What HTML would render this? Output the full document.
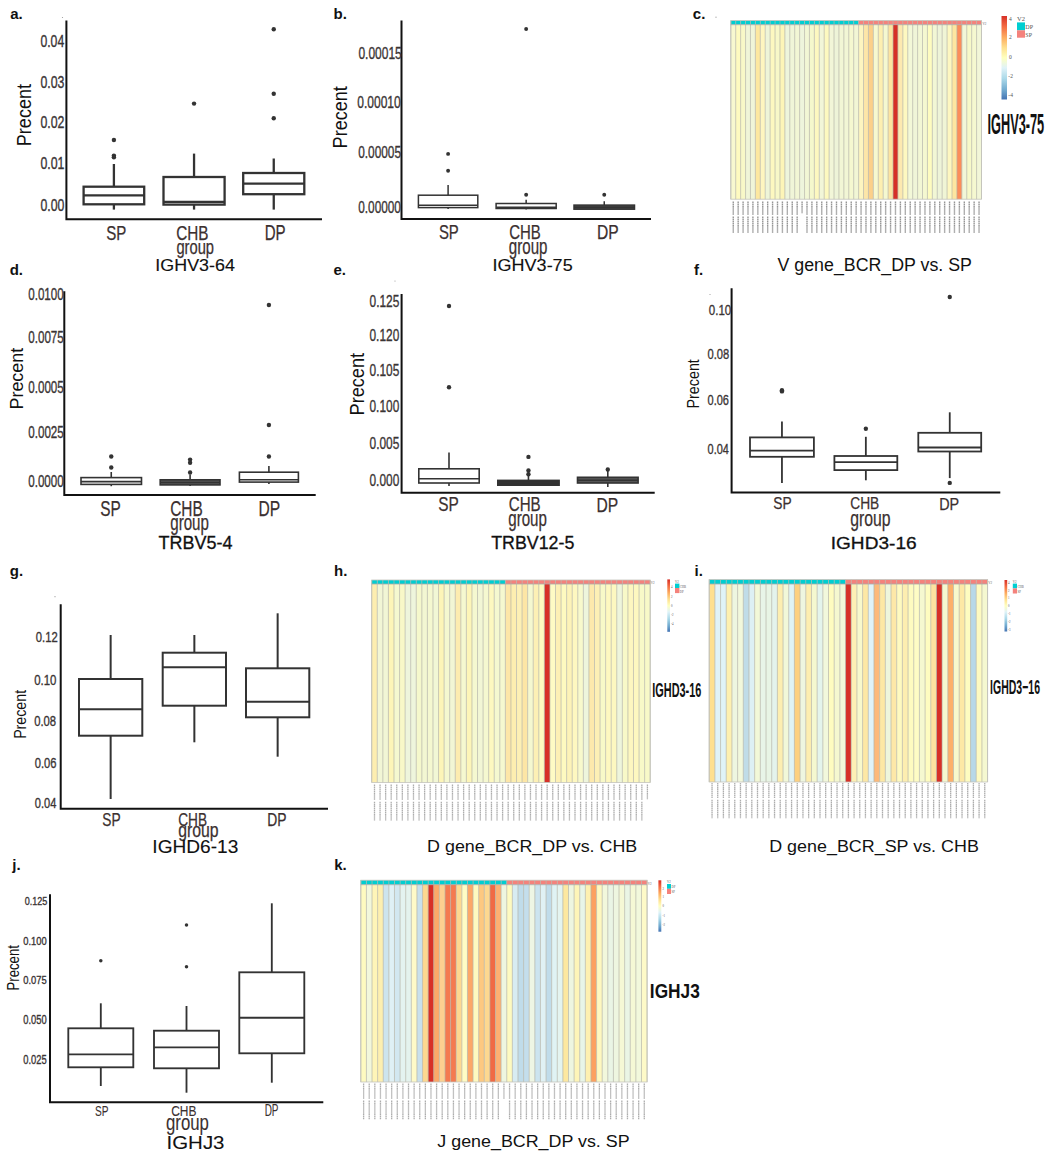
<!DOCTYPE html><html><head><meta charset="utf-8"><style>html,body{margin:0;padding:0;background:#fff;overflow:hidden;}svg{display:block;}</style></head><body>
<svg width="1051" height="1164" viewBox="0 0 1051 1164">
<rect width="1051" height="1164" fill="#fff"/>
<text x="10.2" y="19.1" font-size="15" font-family="Liberation Sans" font-weight="bold" fill="#111">a.</text>
<text x="333.6" y="19.1" font-size="15" font-family="Liberation Sans" font-weight="bold" fill="#111">b.</text>
<text x="692.8" y="19.1" font-size="15" font-family="Liberation Sans" font-weight="bold" fill="#111">c.</text>
<text x="9.7" y="275" font-size="15" font-family="Liberation Sans" font-weight="bold" fill="#111">d.</text>
<text x="333.5" y="275" font-size="15" font-family="Liberation Sans" font-weight="bold" fill="#111">e.</text>
<text x="694.1" y="275" font-size="15" font-family="Liberation Sans" font-weight="bold" fill="#111">f.</text>
<text x="9.8" y="576" font-size="15" font-family="Liberation Sans" font-weight="bold" fill="#111">g.</text>
<text x="334.0" y="576" font-size="15" font-family="Liberation Sans" font-weight="bold" fill="#111">h.</text>
<text x="694.6" y="576" font-size="15" font-family="Liberation Sans" font-weight="bold" fill="#111">i.</text>
<text x="12.3" y="870" font-size="15" font-family="Liberation Sans" font-weight="bold" fill="#111">j.</text>
<text x="334.2" y="870" font-size="15" font-family="Liberation Sans" font-weight="bold" fill="#111">k.</text>
<path d="M66.4 20.5 V219.3 H322" fill="none" stroke="#111" stroke-width="2.0"/>
<text x="40.41" y="47.43" font-size="16.95" font-family="Liberation Sans" font-weight="normal" fill="#3a3434" textLength="23.76" lengthAdjust="spacingAndGlyphs" stroke="#3a3434" stroke-width="0.35">0.04</text>
<text x="40.41" y="87.73" font-size="16.95" font-family="Liberation Sans" font-weight="normal" fill="#3a3434" textLength="23.94" lengthAdjust="spacingAndGlyphs" stroke="#3a3434" stroke-width="0.35">0.03</text>
<text x="40.41" y="128.13" font-size="16.95" font-family="Liberation Sans" font-weight="normal" fill="#3a3434" textLength="24.01" lengthAdjust="spacingAndGlyphs" stroke="#3a3434" stroke-width="0.35">0.02</text>
<text x="40.41" y="168.53" font-size="16.95" font-family="Liberation Sans" font-weight="normal" fill="#3a3434" textLength="23.99" lengthAdjust="spacingAndGlyphs" stroke="#3a3434" stroke-width="0.35">0.01</text>
<text x="40.41" y="210.83" font-size="16.95" font-family="Liberation Sans" font-weight="normal" fill="#3a3434" textLength="23.86" lengthAdjust="spacingAndGlyphs" stroke="#3a3434" stroke-width="0.35">0.00</text>
<line x1="113.90" y1="164" x2="113.90" y2="186.7" stroke="#333333" stroke-width="2.3"/>
<line x1="113.90" y1="204.3" x2="113.90" y2="209.6" stroke="#333333" stroke-width="2.3"/>
<rect x="83.6" y="186.7" width="60.60" height="17.60" fill="none" stroke="#333333" stroke-width="2.3"/>
<line x1="83.6" y1="195.3" x2="144.2" y2="195.3" stroke="#333333" stroke-width="2.3"/>
<circle cx="113.90" cy="140" r="2.2" fill="#333333"/>
<circle cx="113.90" cy="155.6" r="2.2" fill="#333333"/>
<circle cx="113.90" cy="157.3" r="2.2" fill="#333333"/>
<line x1="194.05" y1="153.6" x2="194.05" y2="177" stroke="#333333" stroke-width="2.3"/>
<line x1="194.05" y1="204.6" x2="194.05" y2="209.6" stroke="#333333" stroke-width="2.3"/>
<rect x="163.5" y="177" width="61.10" height="27.60" fill="none" stroke="#333333" stroke-width="2.3"/>
<line x1="163.5" y1="201.8" x2="224.6" y2="201.8" stroke="#333333" stroke-width="2.3"/>
<circle cx="194.05" cy="103.6" r="2.2" fill="#333333"/>
<line x1="273.75" y1="158.5" x2="273.75" y2="173" stroke="#333333" stroke-width="2.3"/>
<line x1="273.75" y1="194.2" x2="273.75" y2="209.6" stroke="#333333" stroke-width="2.3"/>
<rect x="243.2" y="173" width="61.10" height="21.20" fill="none" stroke="#333333" stroke-width="2.3"/>
<line x1="243.2" y1="183.6" x2="304.3" y2="183.6" stroke="#333333" stroke-width="2.3"/>
<circle cx="273.75" cy="29.2" r="2.2" fill="#333333"/>
<circle cx="273.75" cy="93.7" r="2.2" fill="#333333"/>
<circle cx="273.75" cy="118.2" r="2.2" fill="#333333"/>
<text x="106.21" y="239.79" font-size="20.76" font-family="Liberation Sans" font-weight="normal" fill="#3b3030" textLength="20.07" lengthAdjust="spacingAndGlyphs" stroke="#3b3030" stroke-width="0.25">SP</text>
<text x="176.19" y="239.79" font-size="20.76" font-family="Liberation Sans" font-weight="normal" fill="#3b3030" textLength="32.28" lengthAdjust="spacingAndGlyphs" stroke="#3b3030" stroke-width="0.25">CHB</text>
<text x="264.71" y="240.00" font-size="21.37" font-family="Liberation Sans" font-weight="normal" fill="#3b3030" textLength="20.94" lengthAdjust="spacingAndGlyphs" stroke="#3b3030" stroke-width="0.25">DP</text>
<text x="176.38" y="253.53" font-size="19.57" font-family="Liberation Sans" font-weight="normal" fill="#3b3030" textLength="37.63" lengthAdjust="spacingAndGlyphs" stroke="#3b3030" stroke-width="0.25">group</text>
<text x="155.36" y="271.23" font-size="17.23" font-family="Liberation Sans" font-weight="normal" fill="#111" textLength="79.49" lengthAdjust="spacingAndGlyphs" stroke="#111" stroke-width="0.15">IGHV3-64</text>
<text transform="translate(30.70,146.18) rotate(-90)" x="0" y="0" font-size="19.63" font-family="Liberation Sans" font-weight="normal" fill="#111" textLength="62.23" lengthAdjust="spacingAndGlyphs">Precent</text>
<path d="M401.5 20.4 V219 H651" fill="none" stroke="#111" stroke-width="2.0"/>
<text x="358.42" y="58.83" font-size="16.53" font-family="Liberation Sans" font-weight="normal" fill="#3a3434" textLength="43.39" lengthAdjust="spacingAndGlyphs" stroke="#3a3434" stroke-width="0.35">0.00015</text>
<text x="357.22" y="108.03" font-size="17.23" font-family="Liberation Sans" font-weight="normal" fill="#3a3434" textLength="43.55" lengthAdjust="spacingAndGlyphs" stroke="#3a3434" stroke-width="0.35">0.00010</text>
<text x="358.23" y="157.63" font-size="16.53" font-family="Liberation Sans" font-weight="normal" fill="#3a3434" textLength="42.78" lengthAdjust="spacingAndGlyphs" stroke="#3a3434" stroke-width="0.35">0.00005</text>
<text x="358.23" y="213.03" font-size="17.23" font-family="Liberation Sans" font-weight="normal" fill="#3a3434" textLength="42.73" lengthAdjust="spacingAndGlyphs" stroke="#3a3434" stroke-width="0.35">0.00000</text>
<line x1="448.10" y1="185" x2="448.10" y2="195.2" stroke="#333333" stroke-width="1.5"/>
<line x1="448.10" y1="207.6" x2="448.10" y2="209" stroke="#333333" stroke-width="1.5"/>
<rect x="418.4" y="195.2" width="59.40" height="12.40" fill="none" stroke="#333333" stroke-width="1.5"/>
<line x1="418.4" y1="205.3" x2="477.8" y2="205.3" stroke="#333333" stroke-width="1.5"/>
<circle cx="448.10" cy="153.9" r="1.95" fill="#333333"/>
<circle cx="448.10" cy="170.8" r="1.95" fill="#333333"/>
<line x1="526.15" y1="199.8" x2="526.15" y2="203.5" stroke="#333333" stroke-width="1.5"/>
<line x1="526.15" y1="208.5" x2="526.15" y2="209.5" stroke="#333333" stroke-width="1.5"/>
<rect x="496.1" y="203.5" width="60.10" height="5.00" fill="none" stroke="#333333" stroke-width="1.5"/>
<line x1="496.1" y1="207.2" x2="556.2" y2="207.2" stroke="#333333" stroke-width="1.5"/>
<circle cx="526.15" cy="194.8" r="1.95" fill="#333333"/>
<circle cx="526.15" cy="29" r="1.95" fill="#333333"/>
<line x1="604.25" y1="201.2" x2="604.25" y2="205.1" stroke="#333333" stroke-width="1.5"/>
<line x1="604.25" y1="209.2" x2="604.25" y2="209.8" stroke="#333333" stroke-width="1.5"/>
<rect x="574" y="205.1" width="60.50" height="4.10" fill="#444" stroke="#333333" stroke-width="1.5"/>
<line x1="574" y1="207.2" x2="634.5" y2="207.2" stroke="#333333" stroke-width="1.5"/>
<circle cx="604.25" cy="194.8" r="1.95" fill="#333333"/>
<text x="438.92" y="239.10" font-size="20.20" font-family="Liberation Sans" font-weight="normal" fill="#3b3030" textLength="19.86" lengthAdjust="spacingAndGlyphs" stroke="#3b3030" stroke-width="0.25">SP</text>
<text x="509.15" y="239.10" font-size="20.20" font-family="Liberation Sans" font-weight="normal" fill="#3b3030" textLength="31.54" lengthAdjust="spacingAndGlyphs" stroke="#3b3030" stroke-width="0.25">CHB</text>
<text x="596.92" y="239.30" font-size="20.78" font-family="Liberation Sans" font-weight="normal" fill="#3b3030" textLength="21.71" lengthAdjust="spacingAndGlyphs" stroke="#3b3030" stroke-width="0.25">DP</text>
<text x="508.87" y="253.54" font-size="21.45" font-family="Liberation Sans" font-weight="normal" fill="#3b3030" textLength="38.66" lengthAdjust="spacingAndGlyphs" stroke="#3b3030" stroke-width="0.25">group</text>
<text x="492.64" y="271.33" font-size="16.95" font-family="Liberation Sans" font-weight="normal" fill="#111" textLength="80.02" lengthAdjust="spacingAndGlyphs" stroke="#111" stroke-width="0.15">IGHV3-75</text>
<text transform="translate(347.21,148.38) rotate(-90)" x="0" y="0" font-size="19.34" font-family="Liberation Sans" font-weight="normal" fill="#111" textLength="62.23" lengthAdjust="spacingAndGlyphs">Precent</text>
<path d="M64.3 291.3 V495 H315.7" fill="none" stroke="#111" stroke-width="2.0"/>
<text x="28.24" y="300.08" font-size="17.09" font-family="Liberation Sans" font-weight="normal" fill="#3a3434" textLength="35.51" lengthAdjust="spacingAndGlyphs" stroke="#3a3434" stroke-width="0.35">0.0100</text>
<text x="28.23" y="343.48" font-size="17.09" font-family="Liberation Sans" font-weight="normal" fill="#3a3434" textLength="35.56" lengthAdjust="spacingAndGlyphs" stroke="#3a3434" stroke-width="0.35">0.0075</text>
<text x="28.23" y="392.58" font-size="17.09" font-family="Liberation Sans" font-weight="normal" fill="#3a3434" textLength="35.56" lengthAdjust="spacingAndGlyphs" stroke="#3a3434" stroke-width="0.35">0.0005</text>
<text x="28.23" y="437.58" font-size="17.09" font-family="Liberation Sans" font-weight="normal" fill="#3a3434" textLength="35.56" lengthAdjust="spacingAndGlyphs" stroke="#3a3434" stroke-width="0.35">0.0025</text>
<text x="28.24" y="486.68" font-size="17.09" font-family="Liberation Sans" font-weight="normal" fill="#3a3434" textLength="35.51" lengthAdjust="spacingAndGlyphs" stroke="#3a3434" stroke-width="0.35">0.0000</text>
<line x1="111.25" y1="472" x2="111.25" y2="477.6" stroke="#333333" stroke-width="1.6"/>
<line x1="111.25" y1="484.4" x2="111.25" y2="486.2" stroke="#333333" stroke-width="1.6"/>
<rect x="81" y="477.6" width="60.50" height="6.80" fill="none" stroke="#333333" stroke-width="1.6"/>
<line x1="81" y1="481.6" x2="141.5" y2="481.6" stroke="#333333" stroke-width="1.6"/>
<circle cx="111.25" cy="456.5" r="2.2" fill="#333333"/>
<circle cx="111.25" cy="467.5" r="2.2" fill="#333333"/>
<line x1="190.10" y1="474.5" x2="190.10" y2="479.8" stroke="#333333" stroke-width="1.6"/>
<line x1="190.10" y1="484.9" x2="190.10" y2="486" stroke="#333333" stroke-width="1.6"/>
<rect x="160.2" y="479.8" width="59.80" height="5.10" fill="#555" stroke="#333333" stroke-width="1.6"/>
<line x1="160.2" y1="482.5" x2="220" y2="482.5" stroke="#333333" stroke-width="1.6"/>
<circle cx="190.10" cy="459.6" r="2.2" fill="#333333"/>
<circle cx="190.10" cy="462.8" r="2.2" fill="#333333"/>
<circle cx="190.10" cy="472.5" r="2.2" fill="#333333"/>
<line x1="268.90" y1="466.1" x2="268.90" y2="472.2" stroke="#333333" stroke-width="1.6"/>
<line x1="268.90" y1="482.1" x2="268.90" y2="484" stroke="#333333" stroke-width="1.6"/>
<rect x="239.4" y="472.2" width="59.00" height="9.90" fill="none" stroke="#333333" stroke-width="1.6"/>
<line x1="239.4" y1="479.8" x2="298.4" y2="479.8" stroke="#333333" stroke-width="1.6"/>
<circle cx="268.90" cy="305" r="2.2" fill="#333333"/>
<circle cx="268.90" cy="425" r="2.2" fill="#333333"/>
<circle cx="268.90" cy="456.5" r="2.2" fill="#333333"/>
<text x="100.29" y="515.78" font-size="21.75" font-family="Liberation Sans" font-weight="normal" fill="#3b3030" textLength="20.51" lengthAdjust="spacingAndGlyphs" stroke="#3b3030" stroke-width="0.25">SP</text>
<text x="170.13" y="515.78" font-size="21.75" font-family="Liberation Sans" font-weight="normal" fill="#3b3030" textLength="32.59" lengthAdjust="spacingAndGlyphs" stroke="#3b3030" stroke-width="0.25">CHB</text>
<text x="258.52" y="515.50" font-size="22.09" font-family="Liberation Sans" font-weight="normal" fill="#3b3030" textLength="21.71" lengthAdjust="spacingAndGlyphs" stroke="#3b3030" stroke-width="0.25">DP</text>
<text x="170.27" y="530.14" font-size="21.45" font-family="Liberation Sans" font-weight="normal" fill="#3b3030" textLength="38.66" lengthAdjust="spacingAndGlyphs" stroke="#3b3030" stroke-width="0.25">group</text>
<text x="158.50" y="548.82" font-size="17.77" font-family="Liberation Sans" font-weight="normal" fill="#111" textLength="73.94" lengthAdjust="spacingAndGlyphs" stroke="#111" stroke-width="0.3">TRBV5-4</text>
<text transform="translate(22.51,409.47) rotate(-90)" x="0" y="0" font-size="19.20" font-family="Liberation Sans" font-weight="normal" fill="#111" textLength="61.61" lengthAdjust="spacingAndGlyphs">Precent</text>
<path d="M401.6 294 V492.8 H654.7" fill="none" stroke="#111" stroke-width="2.0"/>
<text x="369.52" y="307.43" font-size="16.67" font-family="Liberation Sans" font-weight="normal" fill="#3a3434" textLength="29.78" lengthAdjust="spacingAndGlyphs" stroke="#3a3434" stroke-width="0.35">0.125</text>
<text x="369.52" y="340.73" font-size="16.67" font-family="Liberation Sans" font-weight="normal" fill="#3a3434" textLength="29.73" lengthAdjust="spacingAndGlyphs" stroke="#3a3434" stroke-width="0.35">0.120</text>
<text x="369.52" y="376.43" font-size="16.67" font-family="Liberation Sans" font-weight="normal" fill="#3a3434" textLength="29.78" lengthAdjust="spacingAndGlyphs" stroke="#3a3434" stroke-width="0.35">0.105</text>
<text x="369.52" y="412.43" font-size="16.67" font-family="Liberation Sans" font-weight="normal" fill="#3a3434" textLength="29.73" lengthAdjust="spacingAndGlyphs" stroke="#3a3434" stroke-width="0.35">0.100</text>
<text x="369.52" y="449.03" font-size="16.67" font-family="Liberation Sans" font-weight="normal" fill="#3a3434" textLength="29.78" lengthAdjust="spacingAndGlyphs" stroke="#3a3434" stroke-width="0.35">0.005</text>
<text x="369.52" y="485.73" font-size="16.67" font-family="Liberation Sans" font-weight="normal" fill="#3a3434" textLength="29.73" lengthAdjust="spacingAndGlyphs" stroke="#3a3434" stroke-width="0.35">0.000</text>
<line x1="449.00" y1="452.6" x2="449.00" y2="468.8" stroke="#333333" stroke-width="1.6"/>
<line x1="449.00" y1="483" x2="449.00" y2="486.1" stroke="#333333" stroke-width="1.6"/>
<rect x="418.8" y="468.8" width="60.40" height="14.20" fill="none" stroke="#333333" stroke-width="1.6"/>
<line x1="418.8" y1="478.8" x2="479.2" y2="478.8" stroke="#333333" stroke-width="1.6"/>
<circle cx="449.00" cy="306" r="2.2" fill="#333333"/>
<circle cx="449.00" cy="387.3" r="2.2" fill="#333333"/>
<line x1="528.45" y1="470" x2="528.45" y2="480.4" stroke="#333333" stroke-width="1.6"/>
<line x1="528.45" y1="485.2" x2="528.45" y2="486" stroke="#333333" stroke-width="1.6"/>
<rect x="497.8" y="480.4" width="61.30" height="4.80" fill="#333" stroke="#333333" stroke-width="1.6"/>
<line x1="497.8" y1="482.8" x2="559.1" y2="482.8" stroke="#333333" stroke-width="1.6"/>
<circle cx="528.45" cy="456.9" r="2.2" fill="#333333"/>
<circle cx="528.45" cy="470.4" r="2.2" fill="#333333"/>
<circle cx="528.45" cy="474.2" r="2.2" fill="#333333"/>
<line x1="607.80" y1="469.5" x2="607.80" y2="477.3" stroke="#333333" stroke-width="1.6"/>
<line x1="607.80" y1="483" x2="607.80" y2="487.1" stroke="#333333" stroke-width="1.6"/>
<rect x="577.5" y="477.3" width="60.60" height="5.70" fill="#555" stroke="#333333" stroke-width="1.6"/>
<line x1="577.5" y1="480.2" x2="638.1" y2="480.2" stroke="#333333" stroke-width="1.6"/>
<circle cx="607.80" cy="469.5" r="2.2" fill="#333333"/>
<text x="438.29" y="511.30" font-size="20.48" font-family="Liberation Sans" font-weight="normal" fill="#3b3030" textLength="20.51" lengthAdjust="spacingAndGlyphs" stroke="#3b3030" stroke-width="0.25">SP</text>
<text x="508.74" y="511.30" font-size="20.48" font-family="Liberation Sans" font-weight="normal" fill="#3b3030" textLength="31.96" lengthAdjust="spacingAndGlyphs" stroke="#3b3030" stroke-width="0.25">CHB</text>
<text x="596.52" y="511.50" font-size="21.08" font-family="Liberation Sans" font-weight="normal" fill="#3b3030" textLength="21.71" lengthAdjust="spacingAndGlyphs" stroke="#3b3030" stroke-width="0.25">DP</text>
<text x="508.27" y="525.86" font-size="22.79" font-family="Liberation Sans" font-weight="normal" fill="#3b3030" textLength="38.66" lengthAdjust="spacingAndGlyphs" stroke="#3b3030" stroke-width="0.25">group</text>
<text x="491.21" y="548.92" font-size="18.22" font-family="Liberation Sans" font-weight="normal" fill="#111" textLength="83.15" lengthAdjust="spacingAndGlyphs" stroke="#111" stroke-width="0.3">TRBV12-5</text>
<text transform="translate(364.11,415.49) rotate(-90)" x="0" y="0" font-size="19.48" font-family="Liberation Sans" font-weight="normal" fill="#111" textLength="62.64" lengthAdjust="spacingAndGlyphs">Precent</text>
<path d="M731.6 288.3 V492.5 H1000.3" fill="none" stroke="#111" stroke-width="2.0"/>
<text x="708.84" y="314.85" font-size="15.25" font-family="Liberation Sans" font-weight="normal" fill="#3a3434" textLength="22.40" lengthAdjust="spacingAndGlyphs" stroke="#3a3434" stroke-width="0.35">0.10</text>
<text x="707.55" y="359.45" font-size="14.97" font-family="Liberation Sans" font-weight="normal" fill="#3a3434" textLength="21.74" lengthAdjust="spacingAndGlyphs" stroke="#3a3434" stroke-width="0.35">0.08</text>
<text x="707.56" y="404.65" font-size="14.97" font-family="Liberation Sans" font-weight="normal" fill="#3a3434" textLength="21.43" lengthAdjust="spacingAndGlyphs" stroke="#3a3434" stroke-width="0.35">0.06</text>
<text x="707.56" y="453.85" font-size="14.83" font-family="Liberation Sans" font-weight="normal" fill="#3a3434" textLength="21.27" lengthAdjust="spacingAndGlyphs" stroke="#3a3434" stroke-width="0.35">0.04</text>
<line x1="781.95" y1="421.4" x2="781.95" y2="437.4" stroke="#333333" stroke-width="1.8"/>
<line x1="781.95" y1="456.8" x2="781.95" y2="482.9" stroke="#333333" stroke-width="1.8"/>
<rect x="750" y="437.4" width="63.90" height="19.40" fill="none" stroke="#333333" stroke-width="1.8"/>
<line x1="750" y1="450.7" x2="813.9" y2="450.7" stroke="#333333" stroke-width="1.8"/>
<circle cx="781.95" cy="390.2" r="2.2" fill="#333333"/>
<circle cx="781.95" cy="391.4" r="2.2" fill="#333333"/>
<line x1="865.85" y1="436.8" x2="865.85" y2="456" stroke="#333333" stroke-width="1.8"/>
<line x1="865.85" y1="470.1" x2="865.85" y2="480.3" stroke="#333333" stroke-width="1.8"/>
<rect x="834.4" y="456" width="62.90" height="14.10" fill="none" stroke="#333333" stroke-width="1.8"/>
<line x1="834.4" y1="462.1" x2="897.3" y2="462.1" stroke="#333333" stroke-width="1.8"/>
<circle cx="865.85" cy="428.8" r="2.2" fill="#333333"/>
<line x1="949.75" y1="412.3" x2="949.75" y2="432.8" stroke="#333333" stroke-width="1.8"/>
<line x1="949.75" y1="451.5" x2="949.75" y2="478.1" stroke="#333333" stroke-width="1.8"/>
<rect x="918.3" y="432.8" width="62.90" height="18.70" fill="none" stroke="#333333" stroke-width="1.8"/>
<line x1="918.3" y1="447.5" x2="981.2" y2="447.5" stroke="#333333" stroke-width="1.8"/>
<circle cx="949.75" cy="297" r="2.2" fill="#333333"/>
<circle cx="949.75" cy="482.9" r="2.2" fill="#333333"/>
<text x="773.37" y="509.44" font-size="16.38" font-family="Liberation Sans" font-weight="normal" fill="#3b3030" textLength="18.35" lengthAdjust="spacingAndGlyphs" stroke="#3b3030" stroke-width="0.25">SP</text>
<text x="850.21" y="509.44" font-size="16.38" font-family="Liberation Sans" font-weight="normal" fill="#3b3030" textLength="29.02" lengthAdjust="spacingAndGlyphs" stroke="#3b3030" stroke-width="0.25">CHB</text>
<text x="939.22" y="509.60" font-size="16.86" font-family="Liberation Sans" font-weight="normal" fill="#3b3030" textLength="19.94" lengthAdjust="spacingAndGlyphs" stroke="#3b3030" stroke-width="0.25">DP</text>
<text x="850.24" y="525.54" font-size="21.45" font-family="Liberation Sans" font-weight="normal" fill="#3b3030" textLength="40.32" lengthAdjust="spacingAndGlyphs" stroke="#3b3030" stroke-width="0.25">group</text>
<text x="830.74" y="548.83" font-size="16.95" font-family="Liberation Sans" font-weight="normal" fill="#111" textLength="85.88" lengthAdjust="spacingAndGlyphs" stroke="#111" stroke-width="0.3">IGHD3-16</text>
<text transform="translate(699.13,408.47) rotate(-90)" x="0" y="0" font-size="17.19" font-family="Liberation Sans" font-weight="normal" fill="#111" textLength="49.29" lengthAdjust="spacingAndGlyphs">Precent</text>
<path d="M60.7 604.3 V808.7 H328" fill="none" stroke="#111" stroke-width="2.0"/>
<text x="35.75" y="642.45" font-size="14.69" font-family="Liberation Sans" font-weight="normal" fill="#3a3434" textLength="21.92" lengthAdjust="spacingAndGlyphs" stroke="#3a3434" stroke-width="0.35">0.12</text>
<text x="34.14" y="684.95" font-size="14.69" font-family="Liberation Sans" font-weight="normal" fill="#3a3434" textLength="22.30" lengthAdjust="spacingAndGlyphs" stroke="#3a3434" stroke-width="0.35">0.10</text>
<text x="34.15" y="725.65" font-size="14.69" font-family="Liberation Sans" font-weight="normal" fill="#3a3434" textLength="21.95" lengthAdjust="spacingAndGlyphs" stroke="#3a3434" stroke-width="0.35">0.08</text>
<text x="34.75" y="768.25" font-size="14.69" font-family="Liberation Sans" font-weight="normal" fill="#3a3434" textLength="21.74" lengthAdjust="spacingAndGlyphs" stroke="#3a3434" stroke-width="0.35">0.06</text>
<text x="34.76" y="807.95" font-size="14.69" font-family="Liberation Sans" font-weight="normal" fill="#3a3434" textLength="21.58" lengthAdjust="spacingAndGlyphs" stroke="#3a3434" stroke-width="0.35">0.04</text>
<line x1="110.65" y1="635" x2="110.65" y2="679" stroke="#333333" stroke-width="2.0"/>
<line x1="110.65" y1="735.7" x2="110.65" y2="799" stroke="#333333" stroke-width="2.0"/>
<rect x="79" y="679" width="63.30" height="56.70" fill="none" stroke="#333333" stroke-width="2.0"/>
<line x1="79" y1="709.3" x2="142.3" y2="709.3" stroke="#333333" stroke-width="2.0"/>
<line x1="194.35" y1="635" x2="194.35" y2="652.7" stroke="#333333" stroke-width="2.0"/>
<line x1="194.35" y1="705.7" x2="194.35" y2="742.3" stroke="#333333" stroke-width="2.0"/>
<rect x="162.7" y="652.7" width="63.30" height="53.00" fill="none" stroke="#333333" stroke-width="2.0"/>
<line x1="162.7" y1="667.3" x2="226" y2="667.3" stroke="#333333" stroke-width="2.0"/>
<line x1="277.65" y1="613.3" x2="277.65" y2="668.3" stroke="#333333" stroke-width="2.0"/>
<line x1="277.65" y1="717.3" x2="277.65" y2="756.7" stroke="#333333" stroke-width="2.0"/>
<rect x="246" y="668.3" width="63.30" height="49.00" fill="none" stroke="#333333" stroke-width="2.0"/>
<line x1="246" y1="701.7" x2="309.3" y2="701.7" stroke="#333333" stroke-width="2.0"/>
<text x="102.37" y="825.82" font-size="18.36" font-family="Liberation Sans" font-weight="normal" fill="#3b3030" textLength="18.35" lengthAdjust="spacingAndGlyphs" stroke="#3b3030" stroke-width="0.25">SP</text>
<text x="178.22" y="825.82" font-size="18.36" font-family="Liberation Sans" font-weight="normal" fill="#3b3030" textLength="28.81" lengthAdjust="spacingAndGlyphs" stroke="#3b3030" stroke-width="0.25">CHB</text>
<text x="267.26" y="826.00" font-size="18.90" font-family="Liberation Sans" font-weight="normal" fill="#3b3030" textLength="19.28" lengthAdjust="spacingAndGlyphs" stroke="#3b3030" stroke-width="0.25">DP</text>
<text x="178.24" y="837.23" font-size="20.51" font-family="Liberation Sans" font-weight="normal" fill="#3b3030" textLength="40.42" lengthAdjust="spacingAndGlyphs" stroke="#3b3030" stroke-width="0.25">group</text>
<text x="152.34" y="853.12" font-size="18.08" font-family="Liberation Sans" font-weight="normal" fill="#111" textLength="85.99" lengthAdjust="spacingAndGlyphs" stroke="#111" stroke-width="0.1">IGHD6-13</text>
<text transform="translate(25.83,738.87) rotate(-90)" x="0" y="0" font-size="17.19" font-family="Liberation Sans" font-weight="normal" fill="#111" textLength="48.98" lengthAdjust="spacingAndGlyphs">Precent</text>
<path d="M50 894.3 V1102.3 H323.3" fill="none" stroke="#111" stroke-width="2.0"/>
<text x="24.64" y="904.78" font-size="11.58" font-family="Liberation Sans" font-weight="normal" fill="#3a3434" textLength="22.65" lengthAdjust="spacingAndGlyphs" stroke="#3a3434" stroke-width="0.35">0.125</text>
<text x="23.23" y="945.08" font-size="11.58" font-family="Liberation Sans" font-weight="normal" fill="#3a3434" textLength="23.43" lengthAdjust="spacingAndGlyphs" stroke="#3a3434" stroke-width="0.35">0.100</text>
<text x="23.22" y="983.88" font-size="11.58" font-family="Liberation Sans" font-weight="normal" fill="#3a3434" textLength="23.47" lengthAdjust="spacingAndGlyphs" stroke="#3a3434" stroke-width="0.35">0.075</text>
<text x="23.23" y="1024.48" font-size="12.01" font-family="Liberation Sans" font-weight="normal" fill="#3a3434" textLength="23.43" lengthAdjust="spacingAndGlyphs" stroke="#3a3434" stroke-width="0.35">0.050</text>
<text x="23.22" y="1063.68" font-size="12.01" font-family="Liberation Sans" font-weight="normal" fill="#3a3434" textLength="23.47" lengthAdjust="spacingAndGlyphs" stroke="#3a3434" stroke-width="0.35">0.025</text>
<line x1="100.80" y1="1003.3" x2="100.80" y2="1028.3" stroke="#333333" stroke-width="1.85"/>
<line x1="100.80" y1="1067.3" x2="100.80" y2="1086" stroke="#333333" stroke-width="1.85"/>
<rect x="68.3" y="1028.3" width="65.00" height="39.00" fill="none" stroke="#333333" stroke-width="1.85"/>
<line x1="68.3" y1="1054.3" x2="133.3" y2="1054.3" stroke="#333333" stroke-width="1.85"/>
<circle cx="100.80" cy="960.7" r="1.75" fill="#333333"/>
<line x1="186.50" y1="1006" x2="186.50" y2="1030.7" stroke="#333333" stroke-width="1.85"/>
<line x1="186.50" y1="1068.3" x2="186.50" y2="1092.7" stroke="#333333" stroke-width="1.85"/>
<rect x="154" y="1030.7" width="65.00" height="37.60" fill="none" stroke="#333333" stroke-width="1.85"/>
<line x1="154" y1="1047.3" x2="219" y2="1047.3" stroke="#333333" stroke-width="1.85"/>
<circle cx="186.50" cy="925" r="1.75" fill="#333333"/>
<circle cx="186.50" cy="966.7" r="1.75" fill="#333333"/>
<line x1="271.80" y1="903.3" x2="271.80" y2="972.3" stroke="#333333" stroke-width="1.85"/>
<line x1="271.80" y1="1053.3" x2="271.80" y2="1082.7" stroke="#333333" stroke-width="1.85"/>
<rect x="239.3" y="972.3" width="65.00" height="81.00" fill="none" stroke="#333333" stroke-width="1.85"/>
<line x1="239.3" y1="1017.7" x2="304.3" y2="1017.7" stroke="#333333" stroke-width="1.85"/>
<text x="95.03" y="1116.14" font-size="15.54" font-family="Liberation Sans" font-weight="normal" fill="#3b3030" textLength="13.49" lengthAdjust="spacingAndGlyphs" stroke="#3b3030" stroke-width="0.1">SP</text>
<text x="171.20" y="1116.14" font-size="15.54" font-family="Liberation Sans" font-weight="normal" fill="#3b3030" textLength="25.23" lengthAdjust="spacingAndGlyphs" stroke="#3b3030" stroke-width="0.1">CHB</text>
<text x="264.68" y="1116.30" font-size="15.99" font-family="Liberation Sans" font-weight="normal" fill="#3b3030" textLength="13.85" lengthAdjust="spacingAndGlyphs" stroke="#3b3030" stroke-width="0.1">DP</text>
<text x="166.00" y="1130.47" font-size="21.31" font-family="Liberation Sans" font-weight="normal" fill="#3b3030" textLength="42.90" lengthAdjust="spacingAndGlyphs" stroke="#3b3030" stroke-width="0.1">group</text>
<text x="166.52" y="1149.01" font-size="19.21" font-family="Liberation Sans" font-weight="normal" fill="#111" textLength="57.98" lengthAdjust="spacingAndGlyphs" stroke="#111" stroke-width="0.1">IGHJ3</text>
<text transform="translate(18.74,990.48) rotate(-90)" x="0" y="0" font-size="15.76" font-family="Liberation Sans" font-weight="normal" fill="#111" textLength="45.39" lengthAdjust="spacingAndGlyphs">Precent</text>
<rect x="730.80" y="20.6" width="4.97" height="4.10" fill="#00ced1"/>
<rect x="735.72" y="20.6" width="4.97" height="4.10" fill="#00ced1"/>
<rect x="740.63" y="20.6" width="4.97" height="4.10" fill="#00ced1"/>
<rect x="745.55" y="20.6" width="4.97" height="4.10" fill="#00ced1"/>
<rect x="750.46" y="20.6" width="4.97" height="4.10" fill="#00ced1"/>
<rect x="755.38" y="20.6" width="4.97" height="4.10" fill="#00ced1"/>
<rect x="760.29" y="20.6" width="4.97" height="4.10" fill="#00ced1"/>
<rect x="765.21" y="20.6" width="4.97" height="4.10" fill="#00ced1"/>
<rect x="770.13" y="20.6" width="4.97" height="4.10" fill="#00ced1"/>
<rect x="775.04" y="20.6" width="4.97" height="4.10" fill="#00ced1"/>
<rect x="779.96" y="20.6" width="4.97" height="4.10" fill="#00ced1"/>
<rect x="784.87" y="20.6" width="4.97" height="4.10" fill="#00ced1"/>
<rect x="789.79" y="20.6" width="4.97" height="4.10" fill="#00ced1"/>
<rect x="794.70" y="20.6" width="4.97" height="4.10" fill="#00ced1"/>
<rect x="799.62" y="20.6" width="4.97" height="4.10" fill="#00ced1"/>
<rect x="804.54" y="20.6" width="4.97" height="4.10" fill="#00ced1"/>
<rect x="809.45" y="20.6" width="4.97" height="4.10" fill="#00ced1"/>
<rect x="814.37" y="20.6" width="4.97" height="4.10" fill="#00ced1"/>
<rect x="819.28" y="20.6" width="4.97" height="4.10" fill="#00ced1"/>
<rect x="824.20" y="20.6" width="4.97" height="4.10" fill="#00ced1"/>
<rect x="829.11" y="20.6" width="4.97" height="4.10" fill="#00ced1"/>
<rect x="834.03" y="20.6" width="4.97" height="4.10" fill="#00ced1"/>
<rect x="838.95" y="20.6" width="4.97" height="4.10" fill="#00ced1"/>
<rect x="843.86" y="20.6" width="4.97" height="4.10" fill="#00ced1"/>
<rect x="848.78" y="20.6" width="4.97" height="4.10" fill="#00ced1"/>
<rect x="853.69" y="20.6" width="4.97" height="4.10" fill="#00ced1"/>
<rect x="858.61" y="20.6" width="4.97" height="4.10" fill="#f4827c"/>
<rect x="863.52" y="20.6" width="4.97" height="4.10" fill="#f4827c"/>
<rect x="868.44" y="20.6" width="4.97" height="4.10" fill="#f4827c"/>
<rect x="873.35" y="20.6" width="4.97" height="4.10" fill="#f4827c"/>
<rect x="878.27" y="20.6" width="4.97" height="4.10" fill="#f4827c"/>
<rect x="883.19" y="20.6" width="4.97" height="4.10" fill="#f4827c"/>
<rect x="888.10" y="20.6" width="4.97" height="4.10" fill="#f4827c"/>
<rect x="893.02" y="20.6" width="4.97" height="4.10" fill="#f4827c"/>
<rect x="897.93" y="20.6" width="4.97" height="4.10" fill="#f4827c"/>
<rect x="902.85" y="20.6" width="4.97" height="4.10" fill="#f4827c"/>
<rect x="907.76" y="20.6" width="4.97" height="4.10" fill="#f4827c"/>
<rect x="912.68" y="20.6" width="4.97" height="4.10" fill="#f4827c"/>
<rect x="917.60" y="20.6" width="4.97" height="4.10" fill="#f4827c"/>
<rect x="922.51" y="20.6" width="4.97" height="4.10" fill="#f4827c"/>
<rect x="927.43" y="20.6" width="4.97" height="4.10" fill="#f4827c"/>
<rect x="932.34" y="20.6" width="4.97" height="4.10" fill="#f4827c"/>
<rect x="937.26" y="20.6" width="4.97" height="4.10" fill="#f4827c"/>
<rect x="942.17" y="20.6" width="4.97" height="4.10" fill="#f4827c"/>
<rect x="947.09" y="20.6" width="4.97" height="4.10" fill="#f4827c"/>
<rect x="952.01" y="20.6" width="4.97" height="4.10" fill="#f4827c"/>
<rect x="956.92" y="20.6" width="4.97" height="4.10" fill="#f4827c"/>
<rect x="961.84" y="20.6" width="4.97" height="4.10" fill="#f4827c"/>
<rect x="966.75" y="20.6" width="4.97" height="4.10" fill="#f4827c"/>
<rect x="971.67" y="20.6" width="4.97" height="4.10" fill="#f4827c"/>
<rect x="976.58" y="20.6" width="4.97" height="4.10" fill="#f4827c"/>
<rect x="730.80" y="24.7" width="4.97" height="174.50" fill="#f8f8d0"/>
<rect x="735.72" y="24.7" width="4.97" height="174.50" fill="#fefac0"/>
<rect x="740.63" y="24.7" width="4.97" height="174.50" fill="#f8f8c8"/>
<rect x="745.55" y="24.7" width="4.97" height="174.50" fill="#f0f5d8"/>
<rect x="750.46" y="24.7" width="4.97" height="174.50" fill="#f0f5d8"/>
<rect x="755.38" y="24.7" width="4.97" height="174.50" fill="#fde8a0"/>
<rect x="760.29" y="24.7" width="4.97" height="174.50" fill="#fef6c0"/>
<rect x="765.21" y="24.7" width="4.97" height="174.50" fill="#eef5d8"/>
<rect x="770.13" y="24.7" width="4.97" height="174.50" fill="#fdf8c0"/>
<rect x="775.04" y="24.7" width="4.97" height="174.50" fill="#f8f8c8"/>
<rect x="779.96" y="24.7" width="4.97" height="174.50" fill="#fdf5b8"/>
<rect x="784.87" y="24.7" width="4.97" height="174.50" fill="#eef5dc"/>
<rect x="789.79" y="24.7" width="4.97" height="174.50" fill="#f0f5d8"/>
<rect x="794.70" y="24.7" width="4.97" height="174.50" fill="#f2f6d5"/>
<rect x="799.62" y="24.7" width="4.97" height="174.50" fill="#eef5dc"/>
<rect x="804.54" y="24.7" width="4.97" height="174.50" fill="#f2f7d5"/>
<rect x="809.45" y="24.7" width="4.97" height="174.50" fill="#f5f8cc"/>
<rect x="814.37" y="24.7" width="4.97" height="174.50" fill="#fdf8c0"/>
<rect x="819.28" y="24.7" width="4.97" height="174.50" fill="#f2f6d8"/>
<rect x="824.20" y="24.7" width="4.97" height="174.50" fill="#fdf9c0"/>
<rect x="829.11" y="24.7" width="4.97" height="174.50" fill="#f2f6d8"/>
<rect x="834.03" y="24.7" width="4.97" height="174.50" fill="#eef4d8"/>
<rect x="838.95" y="24.7" width="4.97" height="174.50" fill="#f2f6d5"/>
<rect x="843.86" y="24.7" width="4.97" height="174.50" fill="#f2f6d5"/>
<rect x="848.78" y="24.7" width="4.97" height="174.50" fill="#f5f8d0"/>
<rect x="853.69" y="24.7" width="4.97" height="174.50" fill="#f2f6d5"/>
<rect x="858.61" y="24.7" width="4.97" height="174.50" fill="#fdf5c0"/>
<rect x="863.52" y="24.7" width="4.97" height="174.50" fill="#fde6a8"/>
<rect x="868.44" y="24.7" width="4.97" height="174.50" fill="#fcd08a"/>
<rect x="873.35" y="24.7" width="4.97" height="174.50" fill="#f7f9d0"/>
<rect x="878.27" y="24.7" width="4.97" height="174.50" fill="#fdefb0"/>
<rect x="883.19" y="24.7" width="4.97" height="174.50" fill="#f5f8d0"/>
<rect x="888.10" y="24.7" width="4.97" height="174.50" fill="#fde4a0"/>
<rect x="893.02" y="24.7" width="4.97" height="174.50" fill="#d63027"/>
<rect x="897.93" y="24.7" width="4.97" height="174.50" fill="#fde9b0"/>
<rect x="902.85" y="24.7" width="4.97" height="174.50" fill="#fef8c0"/>
<rect x="907.76" y="24.7" width="4.97" height="174.50" fill="#f3f8d8"/>
<rect x="912.68" y="24.7" width="4.97" height="174.50" fill="#f0f5d8"/>
<rect x="917.60" y="24.7" width="4.97" height="174.50" fill="#f3f7d5"/>
<rect x="922.51" y="24.7" width="4.97" height="174.50" fill="#f5f8d0"/>
<rect x="927.43" y="24.7" width="4.97" height="174.50" fill="#fefcc0"/>
<rect x="932.34" y="24.7" width="4.97" height="174.50" fill="#f2f7d5"/>
<rect x="937.26" y="24.7" width="4.97" height="174.50" fill="#eef4d8"/>
<rect x="942.17" y="24.7" width="4.97" height="174.50" fill="#f0f5d5"/>
<rect x="947.09" y="24.7" width="4.97" height="174.50" fill="#fdf7c0"/>
<rect x="952.01" y="24.7" width="4.97" height="174.50" fill="#fde6a0"/>
<rect x="956.92" y="24.7" width="4.97" height="174.50" fill="#fc8d59"/>
<rect x="961.84" y="24.7" width="4.97" height="174.50" fill="#f2f7d8"/>
<rect x="966.75" y="24.7" width="4.97" height="174.50" fill="#f7f9c8"/>
<rect x="971.67" y="24.7" width="4.97" height="174.50" fill="#f5f8d0"/>
<rect x="976.58" y="24.7" width="4.97" height="174.50" fill="#f2f6d8"/>
<path d="M730.80 20.6V199.2M735.72 20.6V199.2M740.63 20.6V199.2M745.55 20.6V199.2M750.46 20.6V199.2M755.38 20.6V199.2M760.29 20.6V199.2M765.21 20.6V199.2M770.13 20.6V199.2M775.04 20.6V199.2M779.96 20.6V199.2M784.87 20.6V199.2M789.79 20.6V199.2M794.70 20.6V199.2M799.62 20.6V199.2M804.54 20.6V199.2M809.45 20.6V199.2M814.37 20.6V199.2M819.28 20.6V199.2M824.20 20.6V199.2M829.11 20.6V199.2M834.03 20.6V199.2M838.95 20.6V199.2M843.86 20.6V199.2M848.78 20.6V199.2M853.69 20.6V199.2M858.61 20.6V199.2M863.52 20.6V199.2M868.44 20.6V199.2M873.35 20.6V199.2M878.27 20.6V199.2M883.19 20.6V199.2M888.10 20.6V199.2M893.02 20.6V199.2M897.93 20.6V199.2M902.85 20.6V199.2M907.76 20.6V199.2M912.68 20.6V199.2M917.60 20.6V199.2M922.51 20.6V199.2M927.43 20.6V199.2M932.34 20.6V199.2M937.26 20.6V199.2M942.17 20.6V199.2M947.09 20.6V199.2M952.01 20.6V199.2M956.92 20.6V199.2M961.84 20.6V199.2M966.75 20.6V199.2M971.67 20.6V199.2M976.58 20.6V199.2M981.50 20.6V199.2" stroke="#b5b5a8" stroke-width="0.7" fill="none"/>
<rect x="730.8" y="20.6" width="250.70" height="178.60" fill="none" stroke="#c4c4bc" stroke-width="0.8"/>
<line x1="730.8" y1="24.7" x2="981.5" y2="24.7" stroke="#aaa" stroke-width="0.8"/>
<path d="M733.26 201.5V214.80M733.26 216.60V233M738.17 201.5V214.80M738.17 216.60V233M743.09 201.5V214.80M743.09 216.60V233M748.00 201.5V214.80M748.00 216.60V233M752.92 201.5V214.80M752.92 216.60V233M757.84 201.5V214.80M757.84 216.60V233M762.75 201.5V214.80M762.75 216.60V233M767.67 201.5V214.80M767.67 216.60V233M772.58 201.5V214.80M772.58 216.60V233M777.50 201.5V214.80M777.50 216.60V233M782.41 201.5V214.80M782.41 216.60V233M787.33 201.5V214.80M787.33 216.60V233M792.25 201.5V214.80M792.25 216.60V233M797.16 201.5V214.80M797.16 216.60V233M802.08 201.5V213.50M806.99 201.5V214.80M806.99 216.60V233M811.91 201.5V214.80M811.91 216.60V233M816.82 201.5V214.80M816.82 216.60V233M821.74 201.5V214.80M821.74 216.60V233M826.66 201.5V214.80M826.66 216.60V233M831.57 201.5V214.80M831.57 216.60V233M836.49 201.5V214.80M836.49 216.60V233M841.40 201.5V214.80M841.40 216.60V233M846.32 201.5V214.80M846.32 216.60V233M851.23 201.5V214.80M851.23 216.60V233M856.15 201.5V214.80M856.15 216.60V233M861.07 201.5V214.80M861.07 216.60V233M865.98 201.5V214.80M865.98 216.60V233M870.90 201.5V214.80M870.90 216.60V233M875.81 201.5V214.80M875.81 216.60V233M880.73 201.5V214.80M880.73 216.60V233M885.64 201.5V214.80M885.64 216.60V233M890.56 201.5V214.80M890.56 216.60V233M895.48 201.5V214.80M895.48 216.60V233M900.39 201.5V214.80M900.39 216.60V233M905.31 201.5V214.80M905.31 216.60V233M910.22 201.5V214.80M910.22 216.60V233M915.14 201.5V214.80M915.14 216.60V233M920.05 201.5V214.80M920.05 216.60V233M924.97 201.5V214.80M924.97 216.60V233M929.89 201.5V214.80M929.89 216.60V233M934.80 201.5V214.80M934.80 216.60V233M939.72 201.5V214.80M939.72 216.60V233M944.63 201.5V214.80M944.63 216.60V233M949.55 201.5V214.80M949.55 216.60V233M954.46 201.5V214.80M954.46 216.60V233M959.38 201.5V214.80M959.38 216.60V233M964.30 201.5V214.80M964.30 216.60V233M969.21 201.5V214.80M969.21 216.60V233M974.13 201.5V214.80M974.13 216.60V233M979.04 201.5V214.80M979.04 216.60V233" stroke="#7a7a7a" stroke-width="1.4" stroke-dasharray="1.5 0.45" fill="none" opacity="0.8"/>
<defs><linearGradient id="gc" x1="0" y1="0" x2="0" y2="1"><stop offset="0" stop-color="#d73027"/><stop offset="0.13" stop-color="#f46d43"/><stop offset="0.26" stop-color="#fdae61"/><stop offset="0.38" stop-color="#fee090"/><stop offset="0.5" stop-color="#ffffbf"/><stop offset="0.62" stop-color="#e0f3f8"/><stop offset="0.75" stop-color="#abd9e9"/><stop offset="0.88" stop-color="#74add1"/><stop offset="1" stop-color="#4575b4"/></linearGradient></defs>
<rect x="1001.5" y="16" width="5.50" height="83.50" fill="url(#gc)"/>
<text x="1009" y="21" font-size="5.5" font-family="Liberation Serif" fill="#555">4</text>
<text x="1009" y="39" font-size="5.5" font-family="Liberation Serif" fill="#555">2</text>
<text x="1009" y="59" font-size="5.5" font-family="Liberation Serif" fill="#555">0</text>
<text x="1008.3" y="78" font-size="5.5" font-family="Liberation Serif" fill="#555">-2</text>
<text x="1008.3" y="96.5" font-size="5.5" font-family="Liberation Serif" fill="#555">-4</text>
<rect x="1017" y="22.4" width="8.00" height="7.90" fill="#00ced1"/>
<rect x="1017" y="30.3" width="8.00" height="7.40" fill="#f4827c"/>
<text x="1017" y="20.6" font-size="6.5" font-family="Liberation Serif" fill="#555">V2</text>
<text x="1025.3" y="29" font-size="6" font-family="Liberation Serif" fill="#555">DP</text>
<text x="1025.3" y="36.5" font-size="6" font-family="Liberation Serif" fill="#555">SP</text>
<text x="987.56" y="134.04" font-size="29.72" font-family="Liberation Sans" font-weight="bold" fill="#111" textLength="56.60" lengthAdjust="spacingAndGlyphs">IGHV3-75</text>
<text x="777.53" y="271.30" font-size="17.77" font-family="Liberation Sans" font-weight="normal" fill="#111" textLength="194.43" lengthAdjust="spacingAndGlyphs">V gene_BCR_DP vs. SP</text>
<rect x="371.70" y="580" width="5.62" height="4.00" fill="#00ced1"/>
<rect x="377.27" y="580" width="5.62" height="4.00" fill="#00ced1"/>
<rect x="382.84" y="580" width="5.62" height="4.00" fill="#00ced1"/>
<rect x="388.41" y="580" width="5.62" height="4.00" fill="#00ced1"/>
<rect x="393.98" y="580" width="5.62" height="4.00" fill="#00ced1"/>
<rect x="399.55" y="580" width="5.62" height="4.00" fill="#00ced1"/>
<rect x="405.12" y="580" width="5.62" height="4.00" fill="#00ced1"/>
<rect x="410.69" y="580" width="5.62" height="4.00" fill="#00ced1"/>
<rect x="416.26" y="580" width="5.62" height="4.00" fill="#00ced1"/>
<rect x="421.83" y="580" width="5.62" height="4.00" fill="#00ced1"/>
<rect x="427.40" y="580" width="5.62" height="4.00" fill="#00ced1"/>
<rect x="432.97" y="580" width="5.62" height="4.00" fill="#00ced1"/>
<rect x="438.54" y="580" width="5.62" height="4.00" fill="#00ced1"/>
<rect x="444.11" y="580" width="5.62" height="4.00" fill="#00ced1"/>
<rect x="449.68" y="580" width="5.62" height="4.00" fill="#00ced1"/>
<rect x="455.25" y="580" width="5.62" height="4.00" fill="#00ced1"/>
<rect x="460.82" y="580" width="5.62" height="4.00" fill="#00ced1"/>
<rect x="466.39" y="580" width="5.62" height="4.00" fill="#00ced1"/>
<rect x="471.96" y="580" width="5.62" height="4.00" fill="#00ced1"/>
<rect x="477.53" y="580" width="5.62" height="4.00" fill="#00ced1"/>
<rect x="483.10" y="580" width="5.62" height="4.00" fill="#00ced1"/>
<rect x="488.67" y="580" width="5.62" height="4.00" fill="#00ced1"/>
<rect x="494.24" y="580" width="5.62" height="4.00" fill="#00ced1"/>
<rect x="499.81" y="580" width="5.62" height="4.00" fill="#00ced1"/>
<rect x="505.38" y="580" width="5.62" height="4.00" fill="#f4827c"/>
<rect x="510.95" y="580" width="5.62" height="4.00" fill="#f4827c"/>
<rect x="516.52" y="580" width="5.62" height="4.00" fill="#f4827c"/>
<rect x="522.09" y="580" width="5.62" height="4.00" fill="#f4827c"/>
<rect x="527.66" y="580" width="5.62" height="4.00" fill="#f4827c"/>
<rect x="533.23" y="580" width="5.62" height="4.00" fill="#f4827c"/>
<rect x="538.80" y="580" width="5.62" height="4.00" fill="#f4827c"/>
<rect x="544.37" y="580" width="5.62" height="4.00" fill="#f4827c"/>
<rect x="549.94" y="580" width="5.62" height="4.00" fill="#f4827c"/>
<rect x="555.51" y="580" width="5.62" height="4.00" fill="#f4827c"/>
<rect x="561.08" y="580" width="5.62" height="4.00" fill="#f4827c"/>
<rect x="566.65" y="580" width="5.62" height="4.00" fill="#f4827c"/>
<rect x="572.22" y="580" width="5.62" height="4.00" fill="#f4827c"/>
<rect x="577.79" y="580" width="5.62" height="4.00" fill="#f4827c"/>
<rect x="583.36" y="580" width="5.62" height="4.00" fill="#f4827c"/>
<rect x="588.93" y="580" width="5.62" height="4.00" fill="#f4827c"/>
<rect x="594.50" y="580" width="5.62" height="4.00" fill="#f4827c"/>
<rect x="600.07" y="580" width="5.62" height="4.00" fill="#f4827c"/>
<rect x="605.64" y="580" width="5.62" height="4.00" fill="#f4827c"/>
<rect x="611.21" y="580" width="5.62" height="4.00" fill="#f4827c"/>
<rect x="616.78" y="580" width="5.62" height="4.00" fill="#f4827c"/>
<rect x="622.35" y="580" width="5.62" height="4.00" fill="#f4827c"/>
<rect x="627.92" y="580" width="5.62" height="4.00" fill="#f4827c"/>
<rect x="633.49" y="580" width="5.62" height="4.00" fill="#f4827c"/>
<rect x="639.06" y="580" width="5.62" height="4.00" fill="#f4827c"/>
<rect x="644.63" y="580" width="5.62" height="4.00" fill="#f4827c"/>
<rect x="371.70" y="584" width="5.62" height="198.50" fill="#fdeeb0"/>
<rect x="377.27" y="584" width="5.62" height="198.50" fill="#f2f6d5"/>
<rect x="382.84" y="584" width="5.62" height="198.50" fill="#f2f6d5"/>
<rect x="388.41" y="584" width="5.62" height="198.50" fill="#fdf5b8"/>
<rect x="393.98" y="584" width="5.62" height="198.50" fill="#f5f8d0"/>
<rect x="399.55" y="584" width="5.62" height="198.50" fill="#f8f8c8"/>
<rect x="405.12" y="584" width="5.62" height="198.50" fill="#eef5dc"/>
<rect x="410.69" y="584" width="5.62" height="198.50" fill="#eef5dc"/>
<rect x="416.26" y="584" width="5.62" height="198.50" fill="#f5f8cc"/>
<rect x="421.83" y="584" width="5.62" height="198.50" fill="#f3f7d2"/>
<rect x="427.40" y="584" width="5.62" height="198.50" fill="#f5f8d0"/>
<rect x="432.97" y="584" width="5.62" height="198.50" fill="#f2f7d5"/>
<rect x="438.54" y="584" width="5.62" height="198.50" fill="#fdf5b8"/>
<rect x="444.11" y="584" width="5.62" height="198.50" fill="#f5f8d0"/>
<rect x="449.68" y="584" width="5.62" height="198.50" fill="#f2f6d5"/>
<rect x="455.25" y="584" width="5.62" height="198.50" fill="#fdecb0"/>
<rect x="460.82" y="584" width="5.62" height="198.50" fill="#f5f8d0"/>
<rect x="466.39" y="584" width="5.62" height="198.50" fill="#fdf5b8"/>
<rect x="471.96" y="584" width="5.62" height="198.50" fill="#f5f8d0"/>
<rect x="477.53" y="584" width="5.62" height="198.50" fill="#f2f6d5"/>
<rect x="483.10" y="584" width="5.62" height="198.50" fill="#f5f8d0"/>
<rect x="488.67" y="584" width="5.62" height="198.50" fill="#fdf8c0"/>
<rect x="494.24" y="584" width="5.62" height="198.50" fill="#f5f8d0"/>
<rect x="499.81" y="584" width="5.62" height="198.50" fill="#f5f8d0"/>
<rect x="505.38" y="584" width="5.62" height="198.50" fill="#fde6a8"/>
<rect x="510.95" y="584" width="5.62" height="198.50" fill="#fdeeb0"/>
<rect x="516.52" y="584" width="5.62" height="198.50" fill="#fdf0b5"/>
<rect x="522.09" y="584" width="5.62" height="198.50" fill="#fde6a5"/>
<rect x="527.66" y="584" width="5.62" height="198.50" fill="#f5f8d0"/>
<rect x="533.23" y="584" width="5.62" height="198.50" fill="#fdf0b5"/>
<rect x="538.80" y="584" width="5.62" height="198.50" fill="#fefbc0"/>
<rect x="544.37" y="584" width="5.62" height="198.50" fill="#d73027"/>
<rect x="549.94" y="584" width="5.62" height="198.50" fill="#fefbc5"/>
<rect x="555.51" y="584" width="5.62" height="198.50" fill="#fdf0b5"/>
<rect x="561.08" y="584" width="5.62" height="198.50" fill="#fefac0"/>
<rect x="566.65" y="584" width="5.62" height="198.50" fill="#fdf3b8"/>
<rect x="572.22" y="584" width="5.62" height="198.50" fill="#fef8c0"/>
<rect x="577.79" y="584" width="5.62" height="198.50" fill="#f8f9cc"/>
<rect x="583.36" y="584" width="5.62" height="198.50" fill="#eef5dc"/>
<rect x="588.93" y="584" width="5.62" height="198.50" fill="#fde9ac"/>
<rect x="594.50" y="584" width="5.62" height="198.50" fill="#fdf0b5"/>
<rect x="600.07" y="584" width="5.62" height="198.50" fill="#f8f9c8"/>
<rect x="605.64" y="584" width="5.62" height="198.50" fill="#fef8c0"/>
<rect x="611.21" y="584" width="5.62" height="198.50" fill="#fdf8c0"/>
<rect x="616.78" y="584" width="5.62" height="198.50" fill="#eef5dc"/>
<rect x="622.35" y="584" width="5.62" height="198.50" fill="#f8f9c8"/>
<rect x="627.92" y="584" width="5.62" height="198.50" fill="#fdf7c0"/>
<rect x="633.49" y="584" width="5.62" height="198.50" fill="#fdf8c0"/>
<rect x="639.06" y="584" width="5.62" height="198.50" fill="#f8f9c8"/>
<rect x="644.63" y="584" width="5.62" height="198.50" fill="#f8f9c8"/>
<path d="M371.70 580V782.5M377.27 580V782.5M382.84 580V782.5M388.41 580V782.5M393.98 580V782.5M399.55 580V782.5M405.12 580V782.5M410.69 580V782.5M416.26 580V782.5M421.83 580V782.5M427.40 580V782.5M432.97 580V782.5M438.54 580V782.5M444.11 580V782.5M449.68 580V782.5M455.25 580V782.5M460.82 580V782.5M466.39 580V782.5M471.96 580V782.5M477.53 580V782.5M483.10 580V782.5M488.67 580V782.5M494.24 580V782.5M499.81 580V782.5M505.38 580V782.5M510.95 580V782.5M516.52 580V782.5M522.09 580V782.5M527.66 580V782.5M533.23 580V782.5M538.80 580V782.5M544.37 580V782.5M549.94 580V782.5M555.51 580V782.5M561.08 580V782.5M566.65 580V782.5M572.22 580V782.5M577.79 580V782.5M583.36 580V782.5M588.93 580V782.5M594.50 580V782.5M600.07 580V782.5M605.64 580V782.5M611.21 580V782.5M616.78 580V782.5M622.35 580V782.5M627.92 580V782.5M633.49 580V782.5M639.06 580V782.5M644.63 580V782.5M650.20 580V782.5" stroke="#b5b5a8" stroke-width="0.7" fill="none"/>
<rect x="371.7" y="580" width="278.50" height="202.50" fill="none" stroke="#c4c4bc" stroke-width="0.8"/>
<line x1="371.7" y1="584" x2="650.2" y2="584" stroke="#aaa" stroke-width="0.8"/>
<path d="M374.49 784.6V799.88M374.49 801.68V820.6M380.06 784.6V799.88M380.06 801.68V820.6M385.62 784.6V799.88M385.62 801.68V820.6M391.19 784.6V799.88M391.19 801.68V820.6M396.76 784.6V799.88M396.76 801.68V820.6M402.33 784.6V799.88M402.33 801.68V820.6M407.90 784.6V799.88M407.90 801.68V820.6M413.48 784.6V799.88M413.48 801.68V820.6M419.05 784.6V799.88M419.05 801.68V820.6M424.62 784.6V799.88M424.62 801.68V820.6M430.19 784.6V799.88M430.19 801.68V820.6M435.75 784.6V799.88M435.75 801.68V820.6M441.32 784.6V799.88M441.32 801.68V820.6M446.89 784.6V799.88M446.89 801.68V820.6M452.47 784.6V799.88M452.47 801.68V820.6M458.04 784.6V799.88M458.04 801.68V820.6M463.61 784.6V799.88M463.61 801.68V820.6M469.18 784.6V799.88M469.18 801.68V820.6M474.75 784.6V799.88M474.75 801.68V820.6M480.31 784.6V799.88M480.31 801.68V820.6M485.88 784.6V799.88M485.88 801.68V820.6M491.46 784.6V799.88M491.46 801.68V820.6M497.03 784.6V799.88M497.03 801.68V820.6M502.60 784.6V799.88M502.60 801.68V820.6M508.17 784.6V799.88M508.17 801.68V820.6M513.74 784.6V799.88M513.74 801.68V820.6M519.31 784.6V799.88M519.31 801.68V820.6M524.88 784.6V799.88M524.88 801.68V820.6M530.45 784.6V799.88M530.45 801.68V820.6M536.01 784.6V799.88M536.01 801.68V820.6M541.59 784.6V799.88M541.59 801.68V820.6M547.15 784.6V799.88M547.15 801.68V820.6M552.73 784.6V799.88M552.73 801.68V820.6M558.30 784.6V799.88M558.30 801.68V820.6M563.87 784.6V799.88M563.87 801.68V820.6M569.44 784.6V799.88M569.44 801.68V820.6M575.00 784.6V799.88M575.00 801.68V820.6M580.58 784.6V799.88M580.58 801.68V820.6M586.14 784.6V799.88M586.14 801.68V820.6M591.72 784.6V799.88M591.72 801.68V820.6M597.29 784.6V799.88M597.29 801.68V820.6M602.86 784.6V799.88M602.86 801.68V820.6M608.43 784.6V799.88M608.43 801.68V820.6M614.00 784.6V799.88M614.00 801.68V820.6M619.57 784.6V799.88M619.57 801.68V820.6M625.13 784.6V799.88M625.13 801.68V820.6M630.71 784.6V799.88M630.71 801.68V820.6M636.28 784.6V799.88M636.28 801.68V820.6M641.85 784.6V799.88M641.85 801.68V820.6M647.41 784.6V799.14" stroke="#7a7a7a" stroke-width="1.3" stroke-dasharray="1.5 0.45" fill="none" opacity="0.62"/>
<defs><linearGradient id="gh" x1="0" y1="0" x2="0" y2="1"><stop offset="0" stop-color="#d73027"/><stop offset="0.13" stop-color="#f46d43"/><stop offset="0.26" stop-color="#fdae61"/><stop offset="0.38" stop-color="#fee090"/><stop offset="0.5" stop-color="#ffffbf"/><stop offset="0.62" stop-color="#e0f3f8"/><stop offset="0.75" stop-color="#abd9e9"/><stop offset="0.88" stop-color="#74add1"/><stop offset="1" stop-color="#4575b4"/></linearGradient></defs>
<rect x="667.3" y="579.4" width="2.70" height="52.40" fill="url(#gh)"/>
<text x="671" y="588" font-size="3" font-family="Liberation Serif" fill="#555">4</text>
<text x="671" y="597.5" font-size="3" font-family="Liberation Serif" fill="#555">2</text>
<text x="671" y="606.5" font-size="3" font-family="Liberation Serif" fill="#555">0</text>
<text x="671" y="616" font-size="3" font-family="Liberation Serif" fill="#555">-2</text>
<text x="671" y="625" font-size="3" font-family="Liberation Serif" fill="#555">-4</text>
<rect x="675" y="583.6" width="4.40" height="4.40" fill="#00ced1"/>
<rect x="675" y="588" width="4.40" height="5.10" fill="#f4827c"/>
<text x="675" y="582.5" font-size="3" font-family="Liberation Serif" fill="#555">V2</text>
<text x="679.8" y="587.5" font-size="3" font-family="Liberation Serif" fill="#555">CHB</text>
<text x="679.8" y="592.5" font-size="3" font-family="Liberation Serif" fill="#555">DP</text>
<text x="652.28" y="696.75" font-size="20.42" font-family="Liberation Sans" font-weight="bold" fill="#111" textLength="49.11" lengthAdjust="spacingAndGlyphs">IGHD3-16</text>
<text x="427.14" y="851.97" font-size="16.00" font-family="Liberation Sans" font-weight="normal" fill="#111" textLength="210.10" lengthAdjust="spacingAndGlyphs">D gene_BCR_DP vs. CHB</text>
<rect x="709.20" y="579.6" width="5.73" height="4.40" fill="#00ced1"/>
<rect x="714.88" y="579.6" width="5.73" height="4.40" fill="#00ced1"/>
<rect x="720.56" y="579.6" width="5.73" height="4.40" fill="#00ced1"/>
<rect x="726.24" y="579.6" width="5.73" height="4.40" fill="#00ced1"/>
<rect x="731.93" y="579.6" width="5.73" height="4.40" fill="#00ced1"/>
<rect x="737.61" y="579.6" width="5.73" height="4.40" fill="#00ced1"/>
<rect x="743.29" y="579.6" width="5.73" height="4.40" fill="#00ced1"/>
<rect x="748.97" y="579.6" width="5.73" height="4.40" fill="#00ced1"/>
<rect x="754.65" y="579.6" width="5.73" height="4.40" fill="#00ced1"/>
<rect x="760.33" y="579.6" width="5.73" height="4.40" fill="#00ced1"/>
<rect x="766.02" y="579.6" width="5.73" height="4.40" fill="#00ced1"/>
<rect x="771.70" y="579.6" width="5.73" height="4.40" fill="#00ced1"/>
<rect x="777.38" y="579.6" width="5.73" height="4.40" fill="#00ced1"/>
<rect x="783.06" y="579.6" width="5.73" height="4.40" fill="#00ced1"/>
<rect x="788.74" y="579.6" width="5.73" height="4.40" fill="#00ced1"/>
<rect x="794.42" y="579.6" width="5.73" height="4.40" fill="#00ced1"/>
<rect x="800.11" y="579.6" width="5.73" height="4.40" fill="#00ced1"/>
<rect x="805.79" y="579.6" width="5.73" height="4.40" fill="#00ced1"/>
<rect x="811.47" y="579.6" width="5.73" height="4.40" fill="#00ced1"/>
<rect x="817.15" y="579.6" width="5.73" height="4.40" fill="#00ced1"/>
<rect x="822.83" y="579.6" width="5.73" height="4.40" fill="#00ced1"/>
<rect x="828.51" y="579.6" width="5.73" height="4.40" fill="#00ced1"/>
<rect x="834.20" y="579.6" width="5.73" height="4.40" fill="#00ced1"/>
<rect x="839.88" y="579.6" width="5.73" height="4.40" fill="#00ced1"/>
<rect x="845.56" y="579.6" width="5.73" height="4.40" fill="#f4827c"/>
<rect x="851.24" y="579.6" width="5.73" height="4.40" fill="#f4827c"/>
<rect x="856.92" y="579.6" width="5.73" height="4.40" fill="#f4827c"/>
<rect x="862.60" y="579.6" width="5.73" height="4.40" fill="#f4827c"/>
<rect x="868.29" y="579.6" width="5.73" height="4.40" fill="#f4827c"/>
<rect x="873.97" y="579.6" width="5.73" height="4.40" fill="#f4827c"/>
<rect x="879.65" y="579.6" width="5.73" height="4.40" fill="#f4827c"/>
<rect x="885.33" y="579.6" width="5.73" height="4.40" fill="#f4827c"/>
<rect x="891.01" y="579.6" width="5.73" height="4.40" fill="#f4827c"/>
<rect x="896.69" y="579.6" width="5.73" height="4.40" fill="#f4827c"/>
<rect x="902.38" y="579.6" width="5.73" height="4.40" fill="#f4827c"/>
<rect x="908.06" y="579.6" width="5.73" height="4.40" fill="#f4827c"/>
<rect x="913.74" y="579.6" width="5.73" height="4.40" fill="#f4827c"/>
<rect x="919.42" y="579.6" width="5.73" height="4.40" fill="#f4827c"/>
<rect x="925.10" y="579.6" width="5.73" height="4.40" fill="#f4827c"/>
<rect x="930.78" y="579.6" width="5.73" height="4.40" fill="#f4827c"/>
<rect x="936.47" y="579.6" width="5.73" height="4.40" fill="#f4827c"/>
<rect x="942.15" y="579.6" width="5.73" height="4.40" fill="#f4827c"/>
<rect x="947.83" y="579.6" width="5.73" height="4.40" fill="#f4827c"/>
<rect x="953.51" y="579.6" width="5.73" height="4.40" fill="#f4827c"/>
<rect x="959.19" y="579.6" width="5.73" height="4.40" fill="#f4827c"/>
<rect x="964.87" y="579.6" width="5.73" height="4.40" fill="#f4827c"/>
<rect x="970.56" y="579.6" width="5.73" height="4.40" fill="#f4827c"/>
<rect x="976.24" y="579.6" width="5.73" height="4.40" fill="#f4827c"/>
<rect x="981.92" y="579.6" width="5.73" height="4.40" fill="#f4827c"/>
<rect x="709.20" y="584" width="5.73" height="198.00" fill="#fee090"/>
<rect x="714.88" y="584" width="5.73" height="198.00" fill="#e0f3f8"/>
<rect x="720.56" y="584" width="5.73" height="198.00" fill="#e0f3f8"/>
<rect x="726.24" y="584" width="5.73" height="198.00" fill="#fef0b0"/>
<rect x="731.93" y="584" width="5.73" height="198.00" fill="#eef6e0"/>
<rect x="737.61" y="584" width="5.73" height="198.00" fill="#f2f8dc"/>
<rect x="743.29" y="584" width="5.73" height="198.00" fill="#c0dce8"/>
<rect x="748.97" y="584" width="5.73" height="198.00" fill="#ddf0f4"/>
<rect x="754.65" y="584" width="5.73" height="198.00" fill="#f2f8d8"/>
<rect x="760.33" y="584" width="5.73" height="198.00" fill="#e8f5e8"/>
<rect x="766.02" y="584" width="5.73" height="198.00" fill="#e8f5e5"/>
<rect x="771.70" y="584" width="5.73" height="198.00" fill="#e4f3ec"/>
<rect x="777.38" y="584" width="5.73" height="198.00" fill="#fdeeb0"/>
<rect x="783.06" y="584" width="5.73" height="198.00" fill="#f2f8d8"/>
<rect x="788.74" y="584" width="5.73" height="198.00" fill="#e0f3f5"/>
<rect x="794.42" y="584" width="5.73" height="198.00" fill="#fdd080"/>
<rect x="800.11" y="584" width="5.73" height="198.00" fill="#eef6e0"/>
<rect x="805.79" y="584" width="5.73" height="198.00" fill="#fdeeb0"/>
<rect x="811.47" y="584" width="5.73" height="198.00" fill="#f5f8d0"/>
<rect x="817.15" y="584" width="5.73" height="198.00" fill="#e4f4ec"/>
<rect x="822.83" y="584" width="5.73" height="198.00" fill="#f2f8dc"/>
<rect x="828.51" y="584" width="5.73" height="198.00" fill="#fefcc0"/>
<rect x="834.20" y="584" width="5.73" height="198.00" fill="#f5f8d0"/>
<rect x="839.88" y="584" width="5.73" height="198.00" fill="#f2f8d8"/>
<rect x="845.56" y="584" width="5.73" height="198.00" fill="#d73027"/>
<rect x="851.24" y="584" width="5.73" height="198.00" fill="#fef0b5"/>
<rect x="856.92" y="584" width="5.73" height="198.00" fill="#f8f9cc"/>
<rect x="862.60" y="584" width="5.73" height="198.00" fill="#fde8a5"/>
<rect x="868.29" y="584" width="5.73" height="198.00" fill="#e0f3f8"/>
<rect x="873.97" y="584" width="5.73" height="198.00" fill="#fdb97a"/>
<rect x="879.65" y="584" width="5.73" height="198.00" fill="#fde8a5"/>
<rect x="885.33" y="584" width="5.73" height="198.00" fill="#eef6dc"/>
<rect x="891.01" y="584" width="5.73" height="198.00" fill="#fde8a8"/>
<rect x="896.69" y="584" width="5.73" height="198.00" fill="#fefac0"/>
<rect x="902.38" y="584" width="5.73" height="198.00" fill="#fdeeb0"/>
<rect x="908.06" y="584" width="5.73" height="198.00" fill="#fefbc0"/>
<rect x="913.74" y="584" width="5.73" height="198.00" fill="#fefcc5"/>
<rect x="919.42" y="584" width="5.73" height="198.00" fill="#f5f8d0"/>
<rect x="925.10" y="584" width="5.73" height="198.00" fill="#fefcc0"/>
<rect x="930.78" y="584" width="5.73" height="198.00" fill="#fde3a0"/>
<rect x="936.47" y="584" width="5.73" height="198.00" fill="#d73027"/>
<rect x="942.15" y="584" width="5.73" height="198.00" fill="#f5f8d0"/>
<rect x="947.83" y="584" width="5.73" height="198.00" fill="#fdb06a"/>
<rect x="953.51" y="584" width="5.73" height="198.00" fill="#f8f9cc"/>
<rect x="959.19" y="584" width="5.73" height="198.00" fill="#fde8a5"/>
<rect x="964.87" y="584" width="5.73" height="198.00" fill="#fefcc0"/>
<rect x="970.56" y="584" width="5.73" height="198.00" fill="#b8d8e8"/>
<rect x="976.24" y="584" width="5.73" height="198.00" fill="#fefac0"/>
<rect x="981.92" y="584" width="5.73" height="198.00" fill="#f5f8d0"/>
<path d="M709.20 579.6V782M714.88 579.6V782M720.56 579.6V782M726.24 579.6V782M731.93 579.6V782M737.61 579.6V782M743.29 579.6V782M748.97 579.6V782M754.65 579.6V782M760.33 579.6V782M766.02 579.6V782M771.70 579.6V782M777.38 579.6V782M783.06 579.6V782M788.74 579.6V782M794.42 579.6V782M800.11 579.6V782M805.79 579.6V782M811.47 579.6V782M817.15 579.6V782M822.83 579.6V782M828.51 579.6V782M834.20 579.6V782M839.88 579.6V782M845.56 579.6V782M851.24 579.6V782M856.92 579.6V782M862.60 579.6V782M868.29 579.6V782M873.97 579.6V782M879.65 579.6V782M885.33 579.6V782M891.01 579.6V782M896.69 579.6V782M902.38 579.6V782M908.06 579.6V782M913.74 579.6V782M919.42 579.6V782M925.10 579.6V782M930.78 579.6V782M936.47 579.6V782M942.15 579.6V782M947.83 579.6V782M953.51 579.6V782M959.19 579.6V782M964.87 579.6V782M970.56 579.6V782M976.24 579.6V782M981.92 579.6V782M987.60 579.6V782" stroke="#b5b5a8" stroke-width="0.7" fill="none"/>
<rect x="709.2" y="579.6" width="278.40" height="202.40" fill="none" stroke="#c4c4bc" stroke-width="0.8"/>
<line x1="709.2" y1="584" x2="987.6" y2="584" stroke="#aaa" stroke-width="0.8"/>
<path d="M712.04 783V797.97M712.04 799.77V818.3M717.72 783V797.97M717.72 799.77V818.3M723.40 783V797.97M723.40 799.77V818.3M729.09 783V797.97M729.09 799.77V818.3M734.77 783V797.97M734.77 799.77V818.3M740.45 783V797.97M740.45 799.77V818.3M746.13 783V797.97M746.13 799.77V818.3M751.81 783V797.97M751.81 799.77V818.3M757.49 783V797.97M757.49 799.77V818.3M763.18 783V797.97M763.18 799.77V818.3M768.86 783V797.97M768.86 799.77V818.3M774.54 783V797.97M774.54 799.77V818.3M780.22 783V797.97M780.22 799.77V818.3M785.90 783V797.97M785.90 799.77V818.3M791.58 783V797.97M791.58 799.77V818.3M797.27 783V797.97M797.27 799.77V818.3M802.95 783V797.97M802.95 799.77V818.3M808.63 783V797.97M808.63 799.77V818.3M814.31 783V797.97M814.31 799.77V818.3M819.99 783V797.97M819.99 799.77V818.3M825.67 783V797.97M825.67 799.77V818.3M831.36 783V797.97M831.36 799.77V818.3M837.04 783V797.97M837.04 799.77V818.3M842.72 783V797.97M842.72 799.77V818.3M848.40 783V797.97M848.40 799.77V818.3M854.08 783V797.97M854.08 799.77V818.3M859.76 783V797.97M859.76 799.77V818.3M865.44 783V797.97M865.44 799.77V818.3M871.13 783V797.97M871.13 799.77V818.3M876.81 783V797.97M876.81 799.77V818.3M882.49 783V797.97M882.49 799.77V818.3M888.17 783V797.97M888.17 799.77V818.3M893.85 783V797.97M893.85 799.77V818.3M899.53 783V797.97M899.53 799.77V818.3M905.22 783V797.97M905.22 799.77V818.3M910.90 783V797.97M910.90 799.77V818.3M916.58 783V797.97M916.58 799.77V818.3M922.26 783V797.97M922.26 799.77V818.3M927.94 783V797.97M927.94 799.77V818.3M933.62 783V797.97M933.62 799.77V818.3M939.31 783V797.97M939.31 799.77V818.3M944.99 783V797.97M944.99 799.77V818.3M950.67 783V797.97M950.67 799.77V818.3M956.35 783V797.97M956.35 799.77V818.3M962.03 783V797.97M962.03 799.77V818.3M967.71 783V797.97M967.71 799.77V818.3M973.40 783V797.97M973.40 799.77V818.3M979.08 783V797.97M979.08 799.77V818.3M984.76 783V797.97M984.76 799.77V818.3" stroke="#7a7a7a" stroke-width="1.3" stroke-dasharray="1.5 0.45" fill="none" opacity="0.62"/>
<defs><linearGradient id="gi" x1="0" y1="0" x2="0" y2="1"><stop offset="0" stop-color="#d73027"/><stop offset="0.13" stop-color="#f46d43"/><stop offset="0.26" stop-color="#fdae61"/><stop offset="0.38" stop-color="#fee090"/><stop offset="0.5" stop-color="#ffffbf"/><stop offset="0.62" stop-color="#e0f3f8"/><stop offset="0.75" stop-color="#abd9e9"/><stop offset="0.88" stop-color="#74add1"/><stop offset="1" stop-color="#4575b4"/></linearGradient></defs>
<rect x="1004.5" y="580" width="2.70" height="51.50" fill="url(#gi)"/>
<text x="1008" y="583.5" font-size="3" font-family="Liberation Serif" fill="#555">4</text>
<text x="1008" y="591.5" font-size="3" font-family="Liberation Serif" fill="#555">2</text>
<text x="1008" y="599" font-size="3" font-family="Liberation Serif" fill="#555">1</text>
<text x="1008" y="607" font-size="3" font-family="Liberation Serif" fill="#555">0</text>
<text x="1008" y="615" font-size="3" font-family="Liberation Serif" fill="#555">-1</text>
<text x="1008" y="623" font-size="3" font-family="Liberation Serif" fill="#555">-2</text>
<text x="1008" y="631" font-size="3" font-family="Liberation Serif" fill="#555">-3</text>
<rect x="1012.8" y="583.6" width="4.20" height="4.80" fill="#00ced1"/>
<rect x="1012.8" y="588.4" width="4.20" height="5.10" fill="#f4827c"/>
<text x="1012.8" y="582.5" font-size="3" font-family="Liberation Serif" fill="#555">V2</text>
<text x="1017.5" y="587.5" font-size="3" font-family="Liberation Serif" fill="#555">CHB</text>
<text x="1017.5" y="592.5" font-size="3" font-family="Liberation Serif" fill="#555">SP</text>
<text x="990.11" y="693.75" font-size="20.42" font-family="Liberation Sans" font-weight="bold" fill="#111" textLength="49.88" lengthAdjust="spacingAndGlyphs">IGHD3−16</text>
<text x="769.23" y="852.13" font-size="16.23" font-family="Liberation Sans" font-weight="normal" fill="#111" textLength="209.62" lengthAdjust="spacingAndGlyphs">D gene_BCR_SP vs. CHB</text>
<rect x="360.80" y="880.2" width="5.66" height="4.50" fill="#00ced1"/>
<rect x="366.41" y="880.2" width="5.66" height="4.50" fill="#00ced1"/>
<rect x="372.03" y="880.2" width="5.66" height="4.50" fill="#00ced1"/>
<rect x="377.64" y="880.2" width="5.66" height="4.50" fill="#00ced1"/>
<rect x="383.25" y="880.2" width="5.66" height="4.50" fill="#00ced1"/>
<rect x="388.87" y="880.2" width="5.66" height="4.50" fill="#00ced1"/>
<rect x="394.48" y="880.2" width="5.66" height="4.50" fill="#00ced1"/>
<rect x="400.10" y="880.2" width="5.66" height="4.50" fill="#00ced1"/>
<rect x="405.71" y="880.2" width="5.66" height="4.50" fill="#00ced1"/>
<rect x="411.32" y="880.2" width="5.66" height="4.50" fill="#00ced1"/>
<rect x="416.94" y="880.2" width="5.66" height="4.50" fill="#00ced1"/>
<rect x="422.55" y="880.2" width="5.66" height="4.50" fill="#00ced1"/>
<rect x="428.16" y="880.2" width="5.66" height="4.50" fill="#00ced1"/>
<rect x="433.78" y="880.2" width="5.66" height="4.50" fill="#00ced1"/>
<rect x="439.39" y="880.2" width="5.66" height="4.50" fill="#00ced1"/>
<rect x="445.01" y="880.2" width="5.66" height="4.50" fill="#00ced1"/>
<rect x="450.62" y="880.2" width="5.66" height="4.50" fill="#00ced1"/>
<rect x="456.23" y="880.2" width="5.66" height="4.50" fill="#00ced1"/>
<rect x="461.85" y="880.2" width="5.66" height="4.50" fill="#00ced1"/>
<rect x="467.46" y="880.2" width="5.66" height="4.50" fill="#00ced1"/>
<rect x="473.07" y="880.2" width="5.66" height="4.50" fill="#00ced1"/>
<rect x="478.69" y="880.2" width="5.66" height="4.50" fill="#00ced1"/>
<rect x="484.30" y="880.2" width="5.66" height="4.50" fill="#00ced1"/>
<rect x="489.92" y="880.2" width="5.66" height="4.50" fill="#00ced1"/>
<rect x="495.53" y="880.2" width="5.66" height="4.50" fill="#00ced1"/>
<rect x="501.14" y="880.2" width="5.66" height="4.50" fill="#00ced1"/>
<rect x="506.76" y="880.2" width="5.66" height="4.50" fill="#f4827c"/>
<rect x="512.37" y="880.2" width="5.66" height="4.50" fill="#f4827c"/>
<rect x="517.98" y="880.2" width="5.66" height="4.50" fill="#f4827c"/>
<rect x="523.60" y="880.2" width="5.66" height="4.50" fill="#f4827c"/>
<rect x="529.21" y="880.2" width="5.66" height="4.50" fill="#f4827c"/>
<rect x="534.83" y="880.2" width="5.66" height="4.50" fill="#f4827c"/>
<rect x="540.44" y="880.2" width="5.66" height="4.50" fill="#f4827c"/>
<rect x="546.05" y="880.2" width="5.66" height="4.50" fill="#f4827c"/>
<rect x="551.67" y="880.2" width="5.66" height="4.50" fill="#f4827c"/>
<rect x="557.28" y="880.2" width="5.66" height="4.50" fill="#f4827c"/>
<rect x="562.89" y="880.2" width="5.66" height="4.50" fill="#f4827c"/>
<rect x="568.51" y="880.2" width="5.66" height="4.50" fill="#f4827c"/>
<rect x="574.12" y="880.2" width="5.66" height="4.50" fill="#f4827c"/>
<rect x="579.74" y="880.2" width="5.66" height="4.50" fill="#f4827c"/>
<rect x="585.35" y="880.2" width="5.66" height="4.50" fill="#f4827c"/>
<rect x="590.96" y="880.2" width="5.66" height="4.50" fill="#f4827c"/>
<rect x="596.58" y="880.2" width="5.66" height="4.50" fill="#f4827c"/>
<rect x="602.19" y="880.2" width="5.66" height="4.50" fill="#f4827c"/>
<rect x="607.80" y="880.2" width="5.66" height="4.50" fill="#f4827c"/>
<rect x="613.42" y="880.2" width="5.66" height="4.50" fill="#f4827c"/>
<rect x="619.03" y="880.2" width="5.66" height="4.50" fill="#f4827c"/>
<rect x="624.65" y="880.2" width="5.66" height="4.50" fill="#f4827c"/>
<rect x="630.26" y="880.2" width="5.66" height="4.50" fill="#f4827c"/>
<rect x="635.87" y="880.2" width="5.66" height="4.50" fill="#f4827c"/>
<rect x="641.49" y="880.2" width="5.66" height="4.50" fill="#f4827c"/>
<rect x="360.80" y="884.7" width="5.66" height="197.30" fill="#fefac0"/>
<rect x="366.41" y="884.7" width="5.66" height="197.30" fill="#f2f7dc"/>
<rect x="372.03" y="884.7" width="5.66" height="197.30" fill="#fef5b8"/>
<rect x="377.64" y="884.7" width="5.66" height="197.30" fill="#fdefb0"/>
<rect x="383.25" y="884.7" width="5.66" height="197.30" fill="#cde4ee"/>
<rect x="388.87" y="884.7" width="5.66" height="197.30" fill="#dff0f5"/>
<rect x="394.48" y="884.7" width="5.66" height="197.30" fill="#d2e7f0"/>
<rect x="400.10" y="884.7" width="5.66" height="197.30" fill="#e4f3f0"/>
<rect x="405.71" y="884.7" width="5.66" height="197.30" fill="#e4f3ee"/>
<rect x="411.32" y="884.7" width="5.66" height="197.30" fill="#fefac8"/>
<rect x="416.94" y="884.7" width="5.66" height="197.30" fill="#c8e0ec"/>
<rect x="422.55" y="884.7" width="5.66" height="197.30" fill="#fdd890"/>
<rect x="428.16" y="884.7" width="5.66" height="197.30" fill="#d73027"/>
<rect x="433.78" y="884.7" width="5.66" height="197.30" fill="#fca868"/>
<rect x="439.39" y="884.7" width="5.66" height="197.30" fill="#fdd090"/>
<rect x="445.01" y="884.7" width="5.66" height="197.30" fill="#f47a50"/>
<rect x="450.62" y="884.7" width="5.66" height="197.30" fill="#f47a50"/>
<rect x="456.23" y="884.7" width="5.66" height="197.30" fill="#fdd890"/>
<rect x="461.85" y="884.7" width="5.66" height="197.30" fill="#fefcc5"/>
<rect x="467.46" y="884.7" width="5.66" height="197.30" fill="#fca868"/>
<rect x="473.07" y="884.7" width="5.66" height="197.30" fill="#fefac0"/>
<rect x="478.69" y="884.7" width="5.66" height="197.30" fill="#fdc880"/>
<rect x="484.30" y="884.7" width="5.66" height="197.30" fill="#fdd890"/>
<rect x="489.92" y="884.7" width="5.66" height="197.30" fill="#f06a45"/>
<rect x="495.53" y="884.7" width="5.66" height="197.30" fill="#fdb072"/>
<rect x="501.14" y="884.7" width="5.66" height="197.30" fill="#eef6e0"/>
<rect x="506.76" y="884.7" width="5.66" height="197.30" fill="#fefac0"/>
<rect x="512.37" y="884.7" width="5.66" height="197.30" fill="#d8ecf2"/>
<rect x="517.98" y="884.7" width="5.66" height="197.30" fill="#c0dcea"/>
<rect x="523.60" y="884.7" width="5.66" height="197.30" fill="#c4deec"/>
<rect x="529.21" y="884.7" width="5.66" height="197.30" fill="#eef6e4"/>
<rect x="534.83" y="884.7" width="5.66" height="197.30" fill="#cce4ef"/>
<rect x="540.44" y="884.7" width="5.66" height="197.30" fill="#e0f1f4"/>
<rect x="546.05" y="884.7" width="5.66" height="197.30" fill="#c0dcea"/>
<rect x="551.67" y="884.7" width="5.66" height="197.30" fill="#e0f3f4"/>
<rect x="557.28" y="884.7" width="5.66" height="197.30" fill="#e4f4f0"/>
<rect x="562.89" y="884.7" width="5.66" height="197.30" fill="#fde8a0"/>
<rect x="568.51" y="884.7" width="5.66" height="197.30" fill="#eef6e0"/>
<rect x="574.12" y="884.7" width="5.66" height="197.30" fill="#fef5b8"/>
<rect x="579.74" y="884.7" width="5.66" height="197.30" fill="#e8f5e8"/>
<rect x="585.35" y="884.7" width="5.66" height="197.30" fill="#fef0b0"/>
<rect x="590.96" y="884.7" width="5.66" height="197.30" fill="#fca060"/>
<rect x="596.58" y="884.7" width="5.66" height="197.30" fill="#fef8c0"/>
<rect x="602.19" y="884.7" width="5.66" height="197.30" fill="#f2f8dc"/>
<rect x="607.80" y="884.7" width="5.66" height="197.30" fill="#eaf5e5"/>
<rect x="613.42" y="884.7" width="5.66" height="197.30" fill="#eef6e0"/>
<rect x="619.03" y="884.7" width="5.66" height="197.30" fill="#f5f8d5"/>
<rect x="624.65" y="884.7" width="5.66" height="197.30" fill="#eaf5e5"/>
<rect x="630.26" y="884.7" width="5.66" height="197.30" fill="#f5f8d5"/>
<rect x="635.87" y="884.7" width="5.66" height="197.30" fill="#f2f8dc"/>
<rect x="641.49" y="884.7" width="5.66" height="197.30" fill="#fefac8"/>
<path d="M360.80 880.2V1082M366.41 880.2V1082M372.03 880.2V1082M377.64 880.2V1082M383.25 880.2V1082M388.87 880.2V1082M394.48 880.2V1082M400.10 880.2V1082M405.71 880.2V1082M411.32 880.2V1082M416.94 880.2V1082M422.55 880.2V1082M428.16 880.2V1082M433.78 880.2V1082M439.39 880.2V1082M445.01 880.2V1082M450.62 880.2V1082M456.23 880.2V1082M461.85 880.2V1082M467.46 880.2V1082M473.07 880.2V1082M478.69 880.2V1082M484.30 880.2V1082M489.92 880.2V1082M495.53 880.2V1082M501.14 880.2V1082M506.76 880.2V1082M512.37 880.2V1082M517.98 880.2V1082M523.60 880.2V1082M529.21 880.2V1082M534.83 880.2V1082M540.44 880.2V1082M546.05 880.2V1082M551.67 880.2V1082M557.28 880.2V1082M562.89 880.2V1082M568.51 880.2V1082M574.12 880.2V1082M579.74 880.2V1082M585.35 880.2V1082M590.96 880.2V1082M596.58 880.2V1082M602.19 880.2V1082M607.80 880.2V1082M613.42 880.2V1082M619.03 880.2V1082M624.65 880.2V1082M630.26 880.2V1082M635.87 880.2V1082M641.49 880.2V1082M647.10 880.2V1082" stroke="#b5b5a8" stroke-width="0.7" fill="none"/>
<rect x="360.8" y="880.2" width="286.30" height="201.80" fill="none" stroke="#c4c4bc" stroke-width="0.8"/>
<line x1="360.8" y1="884.7" x2="647.1" y2="884.7" stroke="#aaa" stroke-width="0.8"/>
<path d="M363.61 1083.5V1098.65M363.61 1100.45V1119.2M369.22 1083.5V1098.65M369.22 1100.45V1119.2M374.83 1083.5V1098.65M374.83 1100.45V1119.2M380.45 1083.5V1098.65M380.45 1100.45V1119.2M386.06 1083.5V1098.65M386.06 1100.45V1119.2M391.68 1083.5V1098.65M391.68 1100.45V1119.2M397.29 1083.5V1098.65M397.29 1100.45V1119.2M402.90 1083.5V1098.65M402.90 1100.45V1119.2M408.52 1083.5V1098.65M408.52 1100.45V1119.2M414.13 1083.5V1098.65M414.13 1100.45V1119.2M419.74 1083.5V1098.65M419.74 1100.45V1119.2M425.36 1083.5V1098.65M425.36 1100.45V1119.2M430.97 1083.5V1098.65M430.97 1100.45V1119.2M436.59 1083.5V1098.65M436.59 1100.45V1119.2M442.20 1083.5V1098.65M442.20 1100.45V1119.2M447.81 1083.5V1098.65M447.81 1100.45V1119.2M453.43 1083.5V1098.65M453.43 1100.45V1119.2M459.04 1083.5V1098.65M459.04 1100.45V1119.2M464.65 1083.5V1098.65M464.65 1100.45V1119.2M470.27 1083.5V1098.65M470.27 1100.45V1119.2M475.88 1083.5V1098.65M475.88 1100.45V1119.2M481.50 1083.5V1098.65M481.50 1100.45V1119.2M487.11 1083.5V1098.65M487.11 1100.45V1119.2M492.72 1083.5V1098.65M492.72 1100.45V1119.2M498.34 1083.5V1098.65M498.34 1100.45V1119.2M503.95 1083.5V1099.02M509.56 1083.5V1098.65M509.56 1100.45V1119.2M515.18 1083.5V1098.65M515.18 1100.45V1119.2M520.79 1083.5V1098.65M520.79 1100.45V1119.2M526.40 1083.5V1098.65M526.40 1100.45V1119.2M532.02 1083.5V1098.65M532.02 1100.45V1119.2M537.63 1083.5V1098.65M537.63 1100.45V1119.2M543.25 1083.5V1098.65M543.25 1100.45V1119.2M548.86 1083.5V1098.65M548.86 1100.45V1119.2M554.47 1083.5V1098.65M554.47 1100.45V1119.2M560.09 1083.5V1098.65M560.09 1100.45V1119.2M565.70 1083.5V1098.65M565.70 1100.45V1119.2M571.31 1083.5V1098.65M571.31 1100.45V1119.2M576.93 1083.5V1098.65M576.93 1100.45V1119.2M582.54 1083.5V1098.65M582.54 1100.45V1119.2M588.16 1083.5V1098.65M588.16 1100.45V1119.2M593.77 1083.5V1098.65M593.77 1100.45V1119.2M599.38 1083.5V1098.65M599.38 1100.45V1119.2M605.00 1083.5V1098.65M605.00 1100.45V1119.2M610.61 1083.5V1098.65M610.61 1100.45V1119.2M616.22 1083.5V1098.65M616.22 1100.45V1119.2M621.84 1083.5V1098.65M621.84 1100.45V1119.2M627.45 1083.5V1098.65M627.45 1100.45V1119.2M633.07 1083.5V1098.65M633.07 1100.45V1119.2M638.68 1083.5V1098.65M638.68 1100.45V1119.2M644.29 1083.5V1098.65M644.29 1100.45V1119.2" stroke="#7a7a7a" stroke-width="1.3" stroke-dasharray="1.5 0.45" fill="none" opacity="0.62"/>
<defs><linearGradient id="gk" x1="0" y1="0" x2="0" y2="1"><stop offset="0" stop-color="#d73027"/><stop offset="0.13" stop-color="#f46d43"/><stop offset="0.26" stop-color="#fdae61"/><stop offset="0.38" stop-color="#fee090"/><stop offset="0.5" stop-color="#ffffbf"/><stop offset="0.62" stop-color="#e0f3f8"/><stop offset="0.75" stop-color="#abd9e9"/><stop offset="0.88" stop-color="#74add1"/><stop offset="1" stop-color="#4575b4"/></linearGradient></defs>
<rect x="658.4" y="880.3" width="2.90" height="51.40" fill="url(#gk)"/>
<text x="662.5" y="890" font-size="3" font-family="Liberation Serif" fill="#555">2</text>
<text x="662.5" y="898" font-size="3" font-family="Liberation Serif" fill="#555">1</text>
<text x="662.5" y="907" font-size="3" font-family="Liberation Serif" fill="#555">0</text>
<text x="662.5" y="917" font-size="3" font-family="Liberation Serif" fill="#555">-1</text>
<text x="662.5" y="926" font-size="3" font-family="Liberation Serif" fill="#555">-2</text>
<rect x="667" y="884" width="4.00" height="4.80" fill="#00ced1"/>
<rect x="667" y="888.8" width="4.00" height="5.20" fill="#f4827c"/>
<text x="667" y="882.8" font-size="3" font-family="Liberation Serif" fill="#555">V2</text>
<text x="671.5" y="887.5" font-size="3" font-family="Liberation Serif" fill="#555">DP</text>
<text x="671.5" y="892.5" font-size="3" font-family="Liberation Serif" fill="#555">SP</text>
<text x="649.86" y="998.35" font-size="20.56" font-family="Liberation Sans" font-weight="bold" fill="#111" textLength="49.97" lengthAdjust="spacingAndGlyphs">IGHJ3</text>
<text x="437.31" y="1146.56" font-size="16.56" font-family="Liberation Sans" font-weight="normal" fill="#111" textLength="192.33" lengthAdjust="spacingAndGlyphs">J gene_BCR_DP vs. SP</text>
<text x="982.5" y="24.5" font-size="3.2" font-family="Liberation Serif" fill="#666">V2</text>
<text x="650.8" y="583.8" font-size="3.2" font-family="Liberation Serif" fill="#666">V2</text>
<text x="988.2" y="583.6" font-size="3.2" font-family="Liberation Serif" fill="#666">V2</text>
<text x="647.7" y="884.5" font-size="3.2" font-family="Liberation Serif" fill="#666">V2</text>
<circle cx="62.5" cy="17.5" r="0.6" fill="#999"/>
<circle cx="716" cy="17.2" r="0.6" fill="#999"/>
<circle cx="395" cy="281" r="0.6" fill="#999"/>
<circle cx="710" cy="294.5" r="0.6" fill="#999"/>
<circle cx="55" cy="596.7" r="0.6" fill="#999"/>
</svg></body></html>
